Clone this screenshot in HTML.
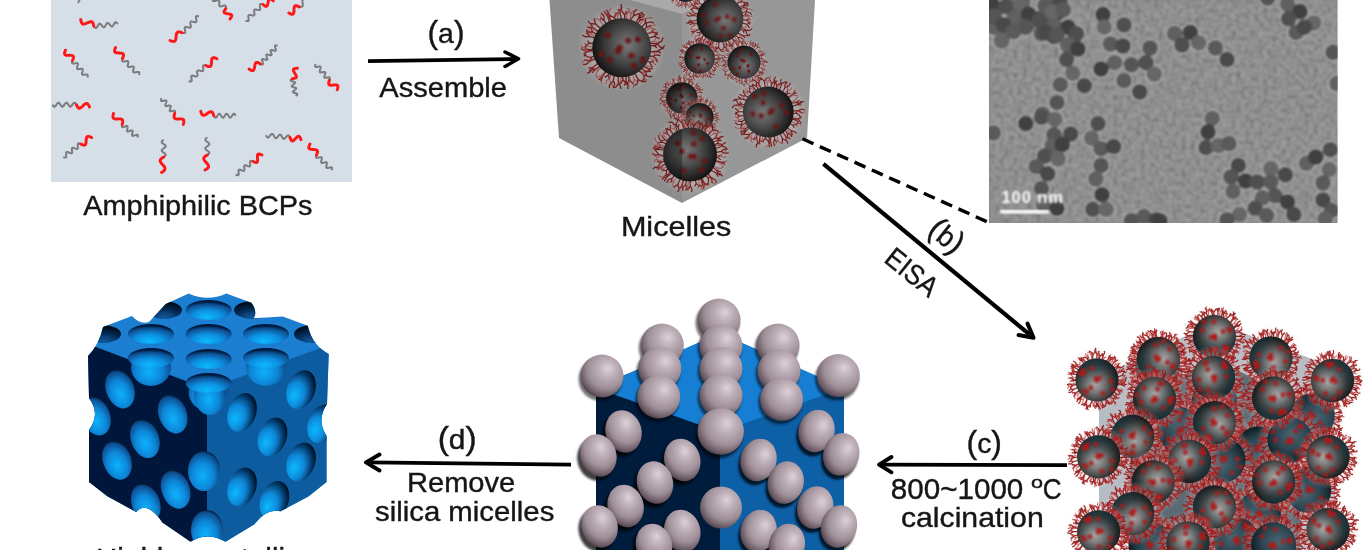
<!DOCTYPE html>
<html><head><meta charset="utf-8"><style>
html,body{margin:0;padding:0;background:#fff;overflow:hidden;}
svg{display:block;}
</style></head><body>
<svg width="1370" height="550" viewBox="0 0 1370 550">
<defs>
<radialGradient id="gM" cx="0.56" cy="0.44" r="0.64" fx="0.58" fy="0.42">
 <stop offset="0" stop-color="#a8a8a8"/><stop offset="0.3" stop-color="#7a7a7a"/>
 <stop offset="0.7" stop-color="#303030"/><stop offset="1" stop-color="#080808"/></radialGradient>
<radialGradient id="gT" cx="0.58" cy="0.42" r="0.62">
 <stop offset="0" stop-color="#4a6672"/><stop offset="0.55" stop-color="#2c4652"/>
 <stop offset="1" stop-color="#0e1c22"/></radialGradient>
<radialGradient id="gTop" cx="0.6" cy="0.45" r="0.65">
 <stop offset="0" stop-color="#7a7a7a"/><stop offset="0.45" stop-color="#4a4a4a"/>
 <stop offset="0.85" stop-color="#1c1c1c"/><stop offset="1" stop-color="#101010"/></radialGradient>
<radialGradient id="gS" cx="0.6" cy="0.36" r="0.72" fx="0.64" fy="0.32">
 <stop offset="0" stop-color="#ddd2da"/><stop offset="0.3" stop-color="#bcadb6"/>
 <stop offset="0.62" stop-color="#9e8e98"/><stop offset="0.85" stop-color="#6a5a64"/><stop offset="1" stop-color="#352a32"/></radialGradient>
<radialGradient id="gHoleTop" cx="0.48" cy="0.8" r="0.72" fx="0.46" fy="0.85">
 <stop offset="0" stop-color="#0abaff"/><stop offset="0.45" stop-color="#0c8ee0"/>
 <stop offset="0.8" stop-color="#0a5396"/><stop offset="1" stop-color="#02183a"/></radialGradient>
<radialGradient id="gHoleL" cx="0.45" cy="0.62" r="0.62">
 <stop offset="0" stop-color="#10b2ff"/><stop offset="0.55" stop-color="#0a86d6"/>
 <stop offset="0.9" stop-color="#0a4e90"/><stop offset="1" stop-color="#05223e"/></radialGradient>
<radialGradient id="gHoleR" cx="0.36" cy="0.66" r="0.72" fx="0.34" fy="0.7">
 <stop offset="0" stop-color="#12b8ff"/><stop offset="0.45" stop-color="#0a88d8"/>
 <stop offset="0.78" stop-color="#053a6c"/><stop offset="1" stop-color="#000814"/></radialGradient>
<radialGradient id="gHalo" cx="0.5" cy="0.5" r="0.5">
 <stop offset="0.6" stop-color="#e8d8d8" stop-opacity="0"/><stop offset="0.68" stop-color="#e8d8d8" stop-opacity="0.35"/>
 <stop offset="0.85" stop-color="#e0cccc" stop-opacity="0.2"/><stop offset="1" stop-color="#e0cccc" stop-opacity="0"/></radialGradient>
<radialGradient id="gNotch" cx="0.5" cy="0.9" r="0.8">
 <stop offset="0" stop-color="#0a5aa0"/><stop offset="0.5" stop-color="#06305c"/><stop offset="1" stop-color="#010a18"/></radialGradient>
<filter id="blur1" x="-20%" y="-20%" width="140%" height="140%"><feGaussianBlur stdDeviation="0.8"/></filter>
<filter id="blur2" x="-20%" y="-20%" width="140%" height="140%"><feGaussianBlur stdDeviation="1.2"/></filter>
<filter id="noise" x="0" y="0" width="100%" height="100%">
 <feTurbulence type="fractalNoise" baseFrequency="0.22" numOctaves="2" seed="3"/>
 <feColorMatrix type="matrix" values="1 0 0 0 0  1 0 0 0 0  1 0 0 0 0  0 0 0 0 1"/>
 <feComponentTransfer><feFuncR type="linear" slope="1.8" intercept="-0.4"/><feFuncG type="linear" slope="1.8" intercept="-0.4"/><feFuncB type="linear" slope="1.8" intercept="-0.4"/></feComponentTransfer>
 <feGaussianBlur stdDeviation="0.9"/>
 <feComposite in2="SourceGraphic" operator="in"/>
</filter>

<g id="fz"><path d="M19.1 -0.1L23.4 -0.3M23.4 -0.3L26.3 -2.0M26.3 -2.0l2.7 0.5M23.4 -0.3L26.1 0.7M26.1 0.7l2.1 -0.9M19.3 2.9L22.8 3.7M22.8 3.7L24.9 2.8M24.9 2.8l1.1 -2.5M22.8 3.7L25.4 5.9M25.4 5.9l2.4 -0.2M17.8 6.3L20.0 7.9M20.0 7.9L23.9 7.7M20.0 7.9L21.2 10.3M21.2 10.3l1.8 0.7M17.1 7.4L19.2 7.6M19.2 7.6L21.5 6.4M19.2 7.6L21.8 9.0M15.6 11.0L17.5 12.7M17.5 12.7L20.2 13.4M20.2 13.4l1.0 1.7M17.5 12.7L18.5 14.9M18.5 14.9l-0.4 2.4M13.1 12.9L16.4 14.9M16.4 14.9L18.8 14.9M18.8 14.9l2.5 -1.4M16.4 14.9L17.4 18.1M11.9 14.0L14.6 17.6M14.6 17.6L16.7 18.4M16.7 18.4l1.5 2.3M14.6 17.6L15.1 20.3M15.1 20.3l1.8 1.9M9.8 16.0L12.3 18.5M12.3 18.5L16.0 19.5M16.0 19.5l1.4 1.4M12.3 18.5L12.7 22.3M12.7 22.3l1.6 2.0M5.8 18.5L6.8 21.3M6.8 21.3L8.2 23.1M8.2 23.1l0.3 2.6M6.8 21.3L6.3 25.1M3.5 18.0L5.1 21.4M5.1 21.4L7.7 23.6M5.1 21.4L4.8 24.2M0.9 18.0L1.1 20.7M1.1 20.7L2.2 23.0M2.2 23.0l1.6 1.1M1.1 20.7L-0.1 23.3M-3.2 19.6L-4.6 22.8M-4.6 22.8L-4.3 25.7M-4.3 25.7l1.5 2.1M-4.6 22.8L-7.5 25.0M-7.5 25.0l-1.0 2.3M-6.8 18.6L-8.6 22.0M-8.6 22.0L-8.0 26.0M-8.0 26.0l-1.8 2.2M-8.6 22.0L-11.7 24.1M-8.9 17.0L-10.4 19.6M-10.4 19.6L-10.4 22.0M-10.4 19.6L-14.2 20.9M-11.2 16.0L-13.0 18.9M-13.0 18.9L-12.9 21.2M-13.0 18.9L-15.8 20.9M-15.8 20.9l-0.1 1.9M-14.3 13.0L-17.1 14.6M-17.1 14.6L-18.5 16.7M-17.1 14.6L-20.8 14.5M-20.8 14.5l-1.6 -1.4M-14.8 11.1L-18.0 12.7M-18.0 12.7L-19.2 15.0M-19.2 15.0l0.5 2.1M-18.0 12.7L-21.2 12.9M-17.8 7.8L-21.5 10.1M-21.5 10.1L-23.3 12.7M-23.3 12.7l0.5 2.2M-21.5 10.1L-25.0 10.2M-18.6 4.9L-21.4 5.1M-21.4 5.1L-24.4 6.8M-21.4 5.1L-24.1 4.0M-19.1 2.8L-21.9 3.8M-21.9 3.8L-23.5 6.0M-21.9 3.8L-25.9 2.6M-25.9 2.6l-2.3 1.1M-19.9 -1.0L-23.6 -0.5M-23.6 -0.5L-25.6 1.0M-25.6 1.0l-1.8 -0.1M-23.6 -0.5L-27.2 -1.6M-18.5 -4.3L-23.0 -4.4M-23.0 -4.4L-25.9 -2.3M-25.9 -2.3l-2.6 -0.7M-23.0 -4.4L-25.8 -5.7M-17.4 -7.0L-20.2 -8.9M-20.2 -8.9L-24.3 -8.8M-24.3 -8.8l-2.4 1.5M-20.2 -8.9L-21.6 -12.7M-21.6 -12.7l-2.8 -1.1M-16.3 -9.9L-19.9 -11.6M-19.9 -11.6L-23.7 -10.7M-23.7 -10.7l-1.6 1.5M-19.9 -11.6L-21.5 -13.8M-16.5 -10.9L-19.4 -11.8M-19.4 -11.8L-22.9 -11.0M-19.4 -11.8L-22.3 -14.9M-13.6 -13.7L-15.3 -16.4M-15.3 -16.4L-18.5 -18.0M-15.3 -16.4L-15.4 -19.7M-10.6 -14.9L-11.8 -18.0M-11.8 -18.0L-14.4 -20.4M-11.8 -18.0L-10.9 -21.3M-10.9 -21.3l-1.4 -2.0M-8.2 -16.5L-9.6 -19.5M-9.6 -19.5L-11.6 -20.7M-9.6 -19.5L-9.4 -22.5M-5.7 -18.1L-7.7 -21.3M-7.7 -21.3L-10.4 -22.6M-7.7 -21.3L-7.4 -24.0M-7.4 -24.0l-1.4 -2.5M-1.7 -19.8L-2.8 -22.9M-2.8 -22.9L-4.4 -24.4M-4.4 -24.4l-1.9 -0.5M-2.8 -22.9L-2.7 -25.7M-0.8 -19.0L-0.7 -22.2M-0.7 -22.2L-2.8 -25.0M-0.7 -22.2L1.5 -25.5M1.5 -25.5l2.5 -0.3M3.2 -19.5L3.2 -22.8M3.2 -22.8L1.8 -25.8M3.2 -22.8L4.7 -26.5M5.2 -17.6L7.0 -20.6M7.0 -20.6L7.4 -24.4M7.4 -24.4l-0.9 -1.9M7.0 -20.6L9.5 -21.8M9.5 -21.8l2.5 0.7M7.9 -17.6L8.6 -21.5M8.6 -21.5L7.6 -24.2M8.6 -21.5L10.8 -24.3M11.3 -16.5L14.2 -19.4M14.2 -19.4L14.8 -21.5M14.2 -19.4L18.1 -20.2M18.1 -20.2l1.4 -1.5M14.9 -13.3L17.3 -16.9M17.3 -16.9L18.2 -20.9M18.2 -20.9l-0.9 -2.2M17.3 -16.9L20.1 -18.2M14.8 -12.6L17.3 -15.8M17.3 -15.8L17.9 -19.4M17.9 -19.4l-1.0 -1.6M17.3 -15.8L20.1 -16.6M20.1 -16.6l1.8 0.9M16.8 -8.3L20.0 -10.4M20.0 -10.4L22.1 -13.5M22.1 -13.5l2.0 -0.9M20.0 -10.4L22.9 -10.6M22.9 -10.6l2.0 -1.7M17.3 -7.0L19.8 -9.0M19.8 -9.0L21.2 -12.1M19.8 -9.0L23.8 -10.0M19.0 -3.5L22.4 -4.1M22.4 -4.1L25.7 -6.6M22.4 -4.1L25.8 -2.5" fill="none" stroke="#961a1a" stroke-width="1.15" stroke-opacity="0.95"/><path d="M20.3 1.4L23.6 0.8M23.6 0.8L25.8 -1.3M23.6 0.8L26.1 1.3M26.1 1.3l2.5 -1.5M20.2 3.0L22.7 2.6M22.7 2.6L25.0 0.6M22.7 2.6L24.9 3.3M24.9 3.3l2.6 -1.3M18.5 7.7L20.5 8.7M20.5 8.7L23.3 8.3M23.3 8.3l2.2 1.0M20.5 8.7L22.2 11.8M22.2 11.8l2.4 0.9M15.9 11.6L17.2 12.5M17.2 12.5L21.3 12.7M21.3 12.7l2.4 1.6M17.2 12.5L19.0 16.1M19.0 16.1l1.7 1.0M12.6 15.4L15.0 17.5M15.0 17.5L19.0 18.2M15.0 17.5L15.4 20.0M10.8 16.0L11.4 17.4M11.4 17.4L14.9 19.7M11.4 17.4L10.5 20.6M5.2 18.4L6.4 21.7M6.4 21.7L8.0 23.4M8.0 23.4l2.4 0.0M6.4 21.7L6.1 24.1M1.6 19.8L2.2 22.3M2.2 22.3L3.7 24.4M3.7 24.4l-0.3 2.3M2.2 22.3L1.6 25.7M-0.7 20.4L-1.3 23.6M-1.3 23.6L-0.3 26.5M-0.3 26.5l1.8 0.7M-1.3 23.6L-3.3 25.7M-6.8 17.7L-7.2 21.1M-7.2 21.1L-5.8 24.1M-5.8 24.1l-1.1 2.8M-7.2 21.1L-8.7 23.5M-8.7 23.5l0.5 2.2M-10.0 15.6L-11.8 17.7M-11.8 17.7L-11.9 20.7M-11.9 20.7l1.4 1.7M-11.8 17.7L-14.2 18.1M-13.8 13.7L-16.2 15.6M-16.2 15.6L-17.1 18.2M-17.1 18.2l-1.9 0.9M-16.2 15.6L-18.8 15.6M-18.8 15.6l-2.0 -2.1M-16.1 11.6L-18.2 12.4M-18.2 12.4L-19.4 14.6M-19.4 14.6l-2.1 0.4M-18.2 12.4L-20.4 11.9M-20.4 11.9l-2.8 1.1M-17.1 7.2L-19.8 8.8M-19.8 8.8L-21.1 10.9M-19.8 8.8L-23.4 9.3M-23.4 9.3l-1.7 -0.9M-19.6 2.8L-21.4 2.6M-21.4 2.6L-23.6 3.8M-23.6 3.8l-0.4 2.1M-21.4 2.6L-23.3 0.5M-18.5 1.3L-21.4 2.3M-21.4 2.3L-23.6 4.1M-23.6 4.1l-0.7 2.2M-21.4 2.3L-24.8 1.8M-18.7 -5.1L-20.7 -5.9M-20.7 -5.9L-24.7 -4.9M-24.7 -4.9l-1.9 2.3M-20.7 -5.9L-23.5 -8.8M-23.5 -8.8l0.1 -2.7M-17.2 -7.8L-19.5 -8.1M-19.5 -8.1L-22.4 -7.2M-19.5 -8.1L-21.8 -10.1M-21.8 -10.1l-0.7 -2.0M-15.0 -12.1L-16.7 -13.5M-16.7 -13.5L-20.5 -14.8M-16.7 -13.5L-17.4 -16.0M-17.4 -16.0l-2.0 -1.2M-14.5 -14.0L-16.3 -15.5M-16.3 -15.5L-18.4 -16.2M-18.4 -16.2l-0.9 -1.8M-16.3 -15.5L-16.9 -19.1M-10.1 -17.3L-11.9 -20.1M-11.9 -20.1L-15.7 -21.7M-11.9 -20.1L-12.3 -22.3M-7.0 -18.5L-7.6 -21.6M-7.6 -21.6L-9.8 -24.5M-9.8 -24.5l-0.0 -2.7M-7.6 -21.6L-6.8 -25.1M-1.8 -18.5L-2.7 -21.4M-2.7 -21.4L-5.7 -23.4M-5.7 -23.4l-1.2 -2.5M-2.7 -21.4L-2.5 -23.8M2.8 -20.2L3.3 -22.9M3.3 -22.9L2.3 -26.1M3.3 -22.9L5.9 -25.9M5.9 -25.9l-0.1 -2.0M7.0 -18.2L8.7 -20.6M8.7 -20.6L9.4 -24.6M8.7 -20.6L10.7 -21.7M9.1 -16.2L9.5 -17.6M9.5 -17.6L9.3 -21.1M9.5 -17.6L12.6 -20.4M12.6 -20.4l2.2 -0.4M13.6 -14.3L15.3 -16.9M15.3 -16.9L15.2 -20.7M15.2 -20.7l-2.0 -1.7M15.3 -16.9L18.5 -19.1M14.7 -11.8L17.0 -13.4M17.0 -13.4L18.7 -17.0M18.7 -17.0l-0.5 -2.5M17.0 -13.4L20.7 -13.2M17.6 -6.5L19.8 -7.5M19.8 -7.5L21.9 -10.0M19.8 -7.5L22.2 -7.1M22.2 -7.1l1.4 1.9M19.0 -4.9L21.9 -6.0M21.9 -6.0L24.4 -9.3M24.4 -9.3l-0.2 -2.0M21.9 -6.0L25.3 -5.3" fill="none" stroke="#b83636" stroke-width="1" stroke-opacity="0.75" transform="rotate(5)"/></g>
<g id="dt" fill="#b01414" fill-opacity="0.95" filter="url(#blur1)"><circle cx="-0.7" cy="-13.7" r="2.1"/><circle cx="14.4" cy="-5.5" r="2.1"/><circle cx="13.2" cy="-7.0" r="2.1"/><circle cx="-2.9" cy="0.6" r="2.1"/><circle cx="-10.0" cy="-13.5" r="2.1"/><circle cx="12.5" cy="10.7" r="2.1"/><circle cx="0.3" cy="11.9" r="2.1"/><circle cx="-11.4" cy="-5.7" r="2.1"/><circle cx="0.4" cy="1.9" r="2.1"/><circle cx="7.9" cy="-4.6" r="2.1"/><circle cx="8.2" cy="12.8" r="2.1"/><circle cx="9.9" cy="11.8" r="2.1"/><circle cx="9.5" cy="9.7" r="2.1"/><circle cx="0.5" cy="-0.5" r="2.1"/></g>
<linearGradient id="gTeal" x1="0" y1="0" x2="0" y2="1"><stop offset="0.45" stop-color="#1e4650" stop-opacity="0"/><stop offset="1" stop-color="#1e4650" stop-opacity="0.55"/></linearGradient>
<g id="mG"><circle r="30" fill="url(#gHalo)"/><use href="#fz"/><circle r="20" fill="url(#gM)"/><circle r="20" fill="url(#gTeal)"/><use href="#dt"/></g>
<g id="mT"><circle r="30" fill="url(#gHalo)"/><use href="#fz"/><circle r="20" fill="url(#gT)"/><use href="#dt"/></g>
<g id="fzTop"><path d="M18.2 -1.4L21.8 -1.3M21.8 -1.3L24.1 -2.2M24.1 -2.2l1.6 -2.1M21.8 -1.3L23.9 0.1M18.6 2.8L24.1 2.3M24.1 2.3L27.8 0.5M27.8 0.5l1.2 -2.0M24.1 2.3L26.5 3.5M18.5 5.7L21.1 5.8M21.1 5.8L23.4 4.9M23.4 4.9l2.7 0.4M21.1 5.8L23.8 8.0M23.8 8.0l0.2 2.0M16.2 8.7L18.7 9.7M18.7 9.7L21.6 9.5M18.7 9.7L20.8 13.3M14.9 12.7L17.9 14.4M17.9 14.4L21.1 14.2M17.9 14.4L19.5 16.4M13.5 13.9L15.5 15.8M15.5 15.8L19.0 16.1M15.5 15.8L16.8 18.7M11.6 15.7L14.8 18.4M14.8 18.4L18.8 19.8M18.8 19.8l1.9 -0.5M14.8 18.4L15.3 20.9M15.3 20.9l-1.9 2.3M8.7 17.1L11.1 21.6M11.1 21.6L14.1 23.1M14.1 23.1l2.7 -0.4M11.1 21.6L10.5 24.4M10.5 24.4l-1.9 1.4M4.3 17.8L5.0 21.9M5.0 21.9L7.9 24.6M5.0 21.9L3.0 25.3M2.8 18.9L2.9 22.9M2.9 22.9L4.3 25.2M4.3 25.2l-0.2 2.8M2.9 22.9L1.7 25.6M0.5 18.4L0.8 21.7M0.8 21.7L2.3 23.5M0.8 21.7L-0.5 24.0M-0.5 24.0l-2.5 1.3M-2.4 19.0L-2.3 24.3M-2.3 24.3L-0.9 26.0M-0.9 26.0l0.2 2.0M-2.3 24.3L-4.1 26.7M-4.1 26.7l-2.0 0.6M-5.0 18.0L-5.8 22.5M-5.8 22.5L-4.8 24.7M-4.8 24.7l-1.0 2.1M-5.8 22.5L-8.3 25.1M-8.3 25.1l-0.2 2.2M-8.1 16.1L-9.1 18.4M-9.1 18.4L-8.5 21.1M-9.1 18.4L-11.5 20.1M-10.6 16.0L-13.5 20.1M-13.5 20.1L-13.9 22.5M-13.5 20.1L-16.0 21.7M-14.6 12.7L-18.2 14.6M-18.2 14.6L-19.9 17.1M-18.2 14.6L-20.8 14.5M-20.8 14.5l-1.4 1.6M-15.8 10.2L-19.8 13.6M-19.8 13.6L-21.3 16.5M-21.3 16.5l-2.2 0.7M-19.8 13.6L-22.6 13.9M-17.0 7.2L-21.7 9.1M-21.7 9.1L-24.0 11.2M-24.0 11.2l-2.4 0.1M-21.7 9.1L-25.6 8.2M-18.0 5.1L-20.6 6.6M-20.6 6.6L-21.5 8.8M-20.6 6.6L-23.4 6.2M-23.4 6.2l-1.4 -1.2M-18.8 1.8L-23.9 2.6M-23.9 2.6L-25.7 4.3M-23.9 2.6L-27.5 0.7M-18.5 0.5L-21.6 1.4M-21.6 1.4L-24.8 3.8M-24.8 3.8l-0.8 2.1M-21.6 1.4L-24.5 1.0M-18.4 -2.7L-21.7 -3.0M-21.7 -3.0L-24.3 -1.7M-24.3 -1.7l-0.6 2.7M-21.7 -3.0L-23.4 -4.8M-17.5 -6.3L-21.8 -7.7M-21.8 -7.7L-25.0 -7.4M-25.0 -7.4l-1.6 -1.1M-21.8 -7.7L-23.5 -9.6M-23.5 -9.6l-0.4 -2.8M-17.3 -9.0L-19.7 -10.6M-19.7 -10.6L-23.6 -10.8M-19.7 -10.6L-21.1 -13.7M-15.9 -10.6L-19.7 -13.6M-19.7 -13.6L-23.6 -14.0M-19.7 -13.6L-20.8 -15.6M-14.9 -13.3L-17.7 -16.0M-17.7 -16.0L-21.7 -16.4M-21.7 -16.4l-1.1 -1.7M-17.7 -16.0L-18.8 -19.4M-10.4 -15.9L-12.1 -18.4M-12.1 -18.4L-14.5 -20.2M-12.1 -18.4L-12.1 -21.6M-12.1 -21.6l-1.9 -1.9M-8.2 -16.8L-9.7 -21.6M-9.7 -21.6L-12.1 -24.8M-9.7 -21.6L-9.2 -24.1M-9.2 -24.1l-1.4 -1.7M-6.5 -16.9L-8.2 -20.3M-8.2 -20.3L-10.3 -22.1M-8.2 -20.3L-8.6 -23.2M-3.8 -17.7L-4.9 -20.2M-4.9 -20.2L-8.4 -21.9M-4.9 -20.2L-4.2 -22.9M-4.2 -22.9l2.0 -1.0M-0.3 -19.4L-1.4 -24.5M-1.4 -24.5L-2.7 -26.2M-1.4 -24.5L0.1 -27.5M0.1 -27.5l-0.8 -2.0M2.0 -18.3L1.9 -22.2M1.9 -22.2L-0.5 -25.5M-0.5 -25.5l0.4 -2.9M1.9 -22.2L3.8 -24.7M5.5 -18.1L7.8 -21.6M7.8 -21.6L8.5 -24.6M8.5 -24.6l1.9 -1.5M7.8 -21.6L11.6 -23.1M9.3 -16.5L11.4 -20.0M11.4 -20.0L12.1 -23.2M12.1 -23.2l1.9 -1.0M11.4 -20.0L14.1 -20.9M14.1 -20.9l1.1 -1.8M10.4 -15.9L12.3 -18.5M12.3 -18.5L12.4 -21.7M12.4 -21.7l2.1 -1.6M12.3 -18.5L14.5 -19.3M13.2 -13.6L16.0 -16.7M16.0 -16.7L16.1 -19.8M16.0 -16.7L19.9 -17.5M19.9 -17.5l1.8 0.8M14.6 -11.4L16.5 -13.6M16.5 -13.6L16.8 -15.9M16.8 -15.9l-1.1 -2.1M16.5 -13.6L19.8 -15.1M17.4 -9.3L19.8 -10.4M19.8 -10.4L21.4 -12.3M19.8 -10.4L22.1 -10.6M22.1 -10.6l2.2 2.0M18.5 -6.6L22.0 -7.6M22.0 -7.6L24.3 -10.7M22.0 -7.6L25.7 -6.1M19.1 -3.0L23.9 -2.7M23.9 -2.7L27.0 -4.2M27.0 -4.2l0.9 -2.7M23.9 -2.7L26.3 -0.3M26.3 -0.3l2.3 0.5" fill="none" stroke="#701616" stroke-width="0.9" stroke-opacity="0.95"/><path d="M19.1 0.9L21.6 1.5M21.6 1.5L24.7 1.1M21.6 1.5L23.3 3.3M19.5 5.2L21.3 6.3M21.3 6.3L25.1 6.8M21.3 6.3L22.3 8.7M22.3 8.7l1.9 0.9M16.4 9.4L18.1 10.8M18.1 10.8L22.0 11.4M18.1 10.8L18.8 13.1M12.9 13.8L15.3 15.3M15.3 15.3L19.1 15.4M15.3 15.3L16.8 19.2M16.8 19.2l2.1 1.3M9.1 17.9L10.3 20.6M10.3 20.6L12.6 22.1M10.3 20.6L10.2 23.1M6.8 19.3L7.4 21.4M7.4 21.4L10.2 23.8M10.2 23.8l-0.1 2.9M7.4 21.4L6.6 23.5M6.6 23.5l0.6 2.4M1.5 19.4L1.2 22.3M1.2 22.3L2.0 24.3M1.2 22.3L-0.7 25.6M-5.5 18.1L-6.5 21.7M-6.5 21.7L-4.9 25.5M-4.9 25.5l1.7 1.2M-6.5 21.7L-8.5 23.2M-8.5 23.2l-0.1 2.1M-9.6 16.6L-12.3 20.2M-12.3 20.2L-12.6 23.4M-12.6 23.4l1.3 1.9M-12.3 20.2L-14.9 21.2M-12.7 14.8L-14.2 16.1M-14.2 16.1L-15.9 19.2M-15.9 19.2l0.7 2.6M-14.2 16.1L-18.1 17.4M-18.1 17.4l-2.1 -1.2M-17.2 8.8L-21.1 10.3M-21.1 10.3L-22.5 12.7M-21.1 10.3L-24.3 10.4M-24.3 10.4l-2.0 2.2M-20.0 4.5L-23.2 4.7M-23.2 4.7L-25.7 6.8M-23.2 4.7L-26.8 3.1M-26.8 3.1l-0.6 -2.0M-18.7 1.2L-23.0 1.0M-23.0 1.0L-26.6 2.3M-23.0 1.0L-25.8 -1.0M-19.4 -6.4L-21.5 -7.4M-21.5 -7.4L-25.3 -7.5M-21.5 -7.4L-23.7 -10.2M-16.5 -9.8L-20.4 -11.5M-20.4 -11.5L-23.8 -11.3M-20.4 -11.5L-22.6 -13.7M-14.2 -14.2L-16.1 -16.9M-16.1 -16.9L-18.2 -18.0M-18.2 -18.0l-2.7 0.1M-16.1 -16.9L-15.9 -20.8M-9.7 -17.7L-11.0 -20.7M-11.0 -20.7L-13.3 -23.1M-11.0 -20.7L-10.7 -24.4M-10.7 -24.4l1.5 -2.0M-4.2 -18.6L-4.8 -21.1M-4.8 -21.1L-7.1 -23.6M-4.8 -21.1L-3.3 -24.6M-3.3 -24.6l-0.4 -2.5M1.5 -19.0L1.4 -22.7M1.4 -22.7L0.0 -24.8M1.4 -22.7L2.9 -24.8M2.9 -24.8l-0.6 -2.1M3.9 -18.6L4.2 -23.0M4.2 -23.0L2.7 -26.2M2.7 -26.2l-1.7 -1.0M4.2 -23.0L5.4 -25.5M5.4 -25.5l2.7 -1.0M10.7 -16.7L13.0 -20.0M13.0 -20.0L13.3 -24.0M13.0 -20.0L16.5 -21.9M16.5 -21.9l2.5 0.1M14.6 -12.7L18.1 -15.0M18.1 -15.0L19.4 -17.0M19.4 -17.0l2.5 -0.5M18.1 -15.0L21.0 -14.9M21.0 -14.9l1.3 1.4M16.2 -11.0L19.0 -11.9M19.0 -11.9L20.9 -14.9M19.0 -11.9L21.8 -11.7M18.0 -4.9L21.3 -6.4M21.3 -6.4L23.0 -9.3M21.3 -6.4L23.6 -5.8" fill="none" stroke="#9a3a3a" stroke-width="0.8" stroke-opacity="0.7" transform="rotate(5)"/></g>
<g id="mTop"><circle r="30" fill="url(#gHalo)"/><use href="#fzTop"/><circle r="20" fill="url(#gTop)"/><g fill="#6e1212" fill-opacity="0.9" filter="url(#blur1)"><circle cx="-8.2" cy="8.4" r="2"/><circle cx="4.3" cy="-4.8" r="2"/><circle cx="-1.4" cy="-0.0" r="2"/><circle cx="14.3" cy="8.0" r="2"/><circle cx="-9.6" cy="-8.6" r="2"/><circle cx="-2.5" cy="2.4" r="2"/><circle cx="-13.9" cy="4.3" r="2"/><circle cx="8.1" cy="12.3" r="2"/><circle cx="6.5" cy="5.4" r="2"/><circle cx="10.9" cy="-5.7" r="2"/></g></g><filter id="soft" x="0" y="0" width="100%" height="100%" filterUnits="userSpaceOnUse"><feGaussianBlur stdDeviation="0.45"/></filter></defs>
<g filter="url(#soft)"><rect width="1370" height="550" fill="#fff"/>
<rect x="51" y="0" width="301" height="182" fill="#d6dfe8"/>
<path d="M93.8 26.2 L94.4 26.9 L94.9 27.5 L95.5 27.9 L96.0 28.0 L96.5 27.8 L96.9 27.3 L97.4 26.6 L97.8 25.8 L98.2 25.0 L98.7 24.3 L99.1 23.9 L99.6 23.7 L100.1 23.8 L100.7 24.2 L101.2 24.8 L101.8 25.5 L102.4 26.2 L102.9 26.8 L103.5 27.2 L104.0 27.3 L104.5 27.1 L104.9 26.6 L105.4 25.9 L105.8 25.1 L106.2 24.3 L106.7 23.6 L107.1 23.1 L107.6 22.9 L108.1 23.0 L108.7 23.4 L109.2 24.0 L109.8 24.7 L110.4 25.4 L110.9 26.0 L111.5 26.4 L112.0 26.5 L112.5 26.3 L112.9 25.9 L113.4 25.2 L113.8 24.4 L114.2 23.6 L114.7 22.9 L115.1 22.4 L115.6 22.2 L116.1 22.3 L116.7 22.7 L117.2 23.3 L117.8 24.0" fill="none" stroke="#7b7b7e" stroke-width="2" stroke-linejoin="round"/>
<path d="M80.7 19.6 L80.9 20.4 L81.0 21.2 L81.2 21.9 L81.5 22.6 L81.8 23.1 L82.1 23.5 L82.5 23.9 L83.0 24.1 L83.5 24.1 L84.1 24.1 L84.7 23.9 L85.4 23.7 L86.1 23.4 L86.9 23.1 L87.6 22.7 L88.4 22.4 L89.1 22.1 L89.8 21.9 L90.4 21.7 L91.0 21.7 L91.5 21.7 L92.0 21.9 L92.4 22.3 L92.7 22.7 L93.0 23.2 L93.3 23.9 L93.5 24.6 L93.6 25.4 L93.8 26.2" fill="none" stroke="#ff1212" stroke-width="2.9" stroke-linecap="round" stroke-linejoin="round"/>
<path d="M72.5 60.5 L72.2 61.4 L72.0 62.3 L72.1 62.9 L72.4 63.3 L72.9 63.5 L73.7 63.5 L74.6 63.4 L75.6 63.2 L76.5 63.1 L77.2 63.1 L77.7 63.4 L77.9 63.9 L77.9 64.6 L77.6 65.5 L77.3 66.4 L77.1 67.4 L77.0 68.1 L77.1 68.7 L77.4 69.1 L78.1 69.2 L78.9 69.1 L79.9 69.0 L80.9 68.8 L81.7 68.7 L82.4 68.8 L82.7 69.2 L82.8 69.8 L82.7 70.5 L82.5 71.5 L82.2 72.4 L81.9 73.3 L81.9 74.0 L82.1 74.5 L82.6 74.8 L83.3 74.8 L84.2 74.7 L85.2 74.5 L86.1 74.4 L86.9 74.4 L87.4 74.6 L87.7 75.0 L87.8 75.6 L87.6 76.5 L87.3 77.4" fill="none" stroke="#7b7b7e" stroke-width="2" stroke-linejoin="round"/>
<path d="M65.5 50.2 L65.1 51.1 L64.8 51.9 L64.6 52.7 L64.5 53.4 L64.6 54.0 L64.8 54.5 L65.1 54.8 L65.7 55.1 L66.4 55.3 L67.2 55.3 L68.1 55.4 L69.0 55.4 L69.9 55.3 L70.8 55.4 L71.6 55.4 L72.3 55.6 L72.9 55.9 L73.2 56.2 L73.4 56.7 L73.5 57.3 L73.4 58.0 L73.2 58.8 L72.9 59.6 L72.5 60.5" fill="none" stroke="#ff1212" stroke-width="2.9" stroke-linecap="round" stroke-linejoin="round"/>
<path d="M122.5 58.5 L122.3 59.4 L122.2 60.3 L122.2 60.9 L122.5 61.3 L123.0 61.5 L123.8 61.5 L124.6 61.4 L125.6 61.2 L126.5 61.0 L127.2 60.9 L127.8 61.1 L128.2 61.4 L128.3 62.0 L128.3 62.8 L128.1 63.7 L127.9 64.6 L127.7 65.5 L127.7 66.2 L127.9 66.7 L128.3 67.0 L129.0 67.1 L129.8 67.0 L130.8 66.8 L131.7 66.5 L132.5 66.4 L133.2 66.5 L133.6 66.8 L133.8 67.3 L133.8 68.0 L133.6 68.9 L133.4 69.8 L133.2 70.7 L133.2 71.5 L133.3 72.1 L133.7 72.4 L134.3 72.6 L135.0 72.5 L135.9 72.3 L136.9 72.1 L137.7 72.0 L138.5 72.0 L139.0 72.2 L139.3 72.6 L139.3 73.2 L139.2 74.1 L139.0 75.0" fill="none" stroke="#7b7b7e" stroke-width="2" stroke-linejoin="round"/>
<path d="M115.6 47.5 L115.2 48.3 L114.9 49.1 L114.7 49.9 L114.6 50.6 L114.6 51.2 L114.7 51.7 L115.0 52.1 L115.5 52.5 L116.1 52.7 L116.9 52.8 L117.7 52.9 L118.6 53.0 L119.5 53.0 L120.4 53.1 L121.2 53.2 L122.0 53.3 L122.6 53.5 L123.1 53.9 L123.4 54.3 L123.5 54.8 L123.5 55.4 L123.4 56.1 L123.2 56.9 L122.9 57.7 L122.5 58.5" fill="none" stroke="#ff1212" stroke-width="2.9" stroke-linecap="round" stroke-linejoin="round"/>
<path d="M182.2 32.8 L183.1 33.0 L184.0 33.1 L184.6 33.1 L185.1 32.8 L185.3 32.3 L185.3 31.6 L185.1 30.7 L184.9 29.8 L184.8 28.8 L184.7 28.1 L184.8 27.5 L185.2 27.1 L185.8 27.0 L186.6 27.1 L187.5 27.3 L188.4 27.5 L189.3 27.6 L190.0 27.7 L190.5 27.5 L190.8 27.0 L190.9 26.4 L190.8 25.5 L190.6 24.6 L190.4 23.7 L190.3 22.8 L190.4 22.2 L190.7 21.7 L191.2 21.5 L191.9 21.6 L192.8 21.7 L193.7 21.9 L194.6 22.1 L195.4 22.2 L196.0 22.1 L196.4 21.7 L196.5 21.1 L196.4 20.4 L196.3 19.4 L196.1 18.5 L195.9 17.6 L195.9 16.9 L196.1 16.4 L196.6 16.1 L197.2 16.1 L198.1 16.2 L199.0 16.4" fill="none" stroke="#7b7b7e" stroke-width="2" stroke-linejoin="round"/>
<path d="M170.0 40.5 L170.8 40.8 L171.6 41.1 L172.3 41.3 L173.0 41.4 L173.6 41.4 L174.2 41.3 L174.7 41.1 L175.0 40.8 L175.4 40.3 L175.6 39.7 L175.8 39.1 L175.9 38.3 L176.0 37.5 L176.1 36.6 L176.2 35.8 L176.3 35.0 L176.4 34.2 L176.6 33.6 L176.8 33.0 L177.2 32.5 L177.5 32.2 L178.0 32.0 L178.6 31.9 L179.2 31.9 L179.9 32.0 L180.6 32.2 L181.4 32.5 L182.2 32.8" fill="none" stroke="#ff1212" stroke-width="2.9" stroke-linecap="round" stroke-linejoin="round"/>
<path d="M225.8 8.6 L225.9 7.7 L225.9 6.9 L225.8 6.2 L225.5 5.8 L225.0 5.5 L224.4 5.5 L223.6 5.6 L222.8 5.9 L221.9 6.1 L221.1 6.3 L220.4 6.4 L219.8 6.3 L219.5 5.9 L219.3 5.4 L219.2 4.6 L219.3 3.8 L219.3 2.8 L219.4 2.0 L219.3 1.2 L219.1 0.7 L218.8 0.3 L218.2 0.2 L217.5 0.3 L216.7 0.5 L215.8 0.7 L215.0 1.0 L214.2 1.1 L213.6 1.1 L213.1 0.8 L212.8 0.4 L212.7 -0.3 L212.7 -1.1 L212.8 -2.0" fill="none" stroke="#7b7b7e" stroke-width="2" stroke-linejoin="round"/>
<path d="M230.0 19.0 L230.6 18.2 L231.1 17.4 L231.5 16.7 L231.8 16.1 L231.8 15.5 L231.6 15.1 L231.2 14.7 L230.6 14.4 L229.8 14.1 L228.9 14.0 L227.9 13.8 L226.9 13.6 L226.0 13.5 L225.2 13.2 L224.6 12.9 L224.2 12.5 L224.0 12.1 L224.0 11.5 L224.3 10.9 L224.7 10.2 L225.2 9.4 L225.8 8.6" fill="none" stroke="#ff1212" stroke-width="2.9" stroke-linecap="round" stroke-linejoin="round"/>
<path d="M263.0 4.3 L262.1 4.1 L261.3 4.0 L260.6 4.0 L260.1 4.2 L259.9 4.7 L259.9 5.4 L260.0 6.3 L260.1 7.2 L260.3 8.1 L260.3 8.9 L260.2 9.5 L259.9 9.9 L259.4 10.1 L258.7 10.1 L257.8 9.9 L256.9 9.7 L256.0 9.5 L255.2 9.4 L254.6 9.5 L254.2 9.8 L254.1 10.4 L254.1 11.2 L254.2 12.0 L254.4 13.0 L254.5 13.8 L254.5 14.6 L254.4 15.2 L254.0 15.5 L253.4 15.6 L252.6 15.5 L251.7 15.3 L250.8 15.1 L249.9 14.9 L249.2 14.9 L248.7 15.1 L248.4 15.5 L248.3 16.1 L248.3 16.9 L248.5 17.8 L248.6 18.7 L248.7 19.6 L248.7 20.3 L248.5 20.8 L248.0 21.0 L247.3 21.0 L246.5 20.9 L245.6 20.7" fill="none" stroke="#7b7b7e" stroke-width="2" stroke-linejoin="round"/>
<path d="M273.3 0.9 L272.5 0.2 L271.8 -0.4 L271.1 -0.8 L270.5 -1.1 L269.9 -1.1 L269.4 -0.9 L269.0 -0.5 L268.7 0.2 L268.4 1.0 L268.2 2.0 L268.0 3.0 L267.8 3.9 L267.5 4.8 L267.2 5.5 L266.8 6.1 L266.4 6.3 L265.9 6.4 L265.2 6.2 L264.6 5.8 L263.8 5.2 L263.1 4.5" fill="none" stroke="#ff1212" stroke-width="2.9" stroke-linecap="round" stroke-linejoin="round"/>
<path d="M299.2 6.9 L300.0 6.9 L300.8 6.9 L301.4 6.8 L302.0 6.6 L302.4 6.2 L302.7 5.8 L302.8 5.2 L302.8 4.5 L302.7 3.7 L302.6 3.0 L302.5 2.2 L302.4 1.4 L302.4 0.7 L302.5 0.1 L302.8 -0.3 L303.2 -0.7 L303.8 -0.9 L304.4 -1.0 L305.2 -1.0 L306.0 -1.0" fill="none" stroke="#7b7b7e" stroke-width="2" stroke-linejoin="round"/>
<path d="M288.8 13.0 L289.6 13.4 L290.4 13.8 L291.2 14.1 L291.8 14.2 L292.4 14.2 L292.9 14.1 L293.3 13.7 L293.6 13.2 L293.8 12.5 L293.9 11.8 L294.0 10.9 L294.0 9.9 L294.0 9.0 L294.1 8.1 L294.2 7.4 L294.4 6.7 L294.7 6.2 L295.1 5.8 L295.6 5.7 L296.2 5.7 L296.8 5.8 L297.6 6.1 L298.4 6.5 L299.2 6.9" fill="none" stroke="#ff1212" stroke-width="2.9" stroke-linecap="round" stroke-linejoin="round"/>
<path d="M260.3 64.0 L261.3 64.3 L262.2 64.4 L262.8 64.3 L263.0 63.8 L262.9 63.0 L262.6 62.0 L262.2 60.9 L262.0 60.0 L262.0 59.4 L262.4 59.0 L263.1 59.1 L264.1 59.3 L265.2 59.6 L266.1 59.8 L266.9 59.9 L267.3 59.5 L267.3 58.9 L267.1 58.0 L266.7 56.9 L266.4 55.9 L266.3 55.1 L266.5 54.6 L267.0 54.5 L267.9 54.6 L269.0 54.9 L270.0 55.2 L270.9 55.3 L271.4 55.2 L271.6 54.7 L271.5 53.9 L271.2 52.9 L270.8 51.8 L270.6 50.9 L270.6 50.3 L271.0 49.9 L271.8 50.0 L272.7 50.2 L273.8 50.5 L274.8 50.7 L275.5 50.8 L275.9 50.4 L275.9 49.8 L275.7 48.9 L275.3 47.8 L275.0 46.8 L274.9 46.0 L275.1 45.5 L275.7 45.4 L276.6 45.5 L277.6 45.8" fill="none" stroke="#7b7b7e" stroke-width="2" stroke-linejoin="round"/>
<path d="M249.0 69.0 L249.8 69.5 L250.5 70.0 L251.3 70.3 L251.9 70.5 L252.5 70.6 L253.0 70.5 L253.5 70.2 L253.8 69.7 L254.1 69.1 L254.3 68.3 L254.5 67.4 L254.7 66.5 L254.8 65.6 L255.0 64.7 L255.2 63.9 L255.5 63.3 L255.8 62.8 L256.3 62.5 L256.8 62.4 L257.4 62.5 L258.0 62.7 L258.8 63.0 L259.5 63.5 L260.3 64.0" fill="none" stroke="#ff1212" stroke-width="2.9" stroke-linecap="round" stroke-linejoin="round"/>
<path d="M206.0 65.6 L205.1 65.3 L204.3 65.2 L203.6 65.2 L203.2 65.5 L202.9 66.0 L202.9 66.7 L203.0 67.6 L203.2 68.5 L203.3 69.4 L203.3 70.2 L203.1 70.8 L202.8 71.1 L202.2 71.2 L201.4 71.1 L200.5 70.9 L199.6 70.6 L198.7 70.4 L198.0 70.4 L197.5 70.6 L197.2 71.0 L197.1 71.6 L197.1 72.5 L197.3 73.4 L197.5 74.3 L197.5 75.2 L197.4 75.8 L197.1 76.2 L196.6 76.4 L195.9 76.4 L195.0 76.2 L194.1 75.9 L193.2 75.7 L192.4 75.6 L191.8 75.7 L191.5 76.0 L191.3 76.6 L191.3 77.4 L191.4 78.3 L191.6 79.2 L191.7 80.1 L191.7 80.8 L191.4 81.3 L191.0 81.6 L190.3 81.6 L189.5 81.5 L188.6 81.2" fill="none" stroke="#7b7b7e" stroke-width="2" stroke-linejoin="round"/>
<path d="M217.0 58.7 L216.2 58.3 L215.4 58.0 L214.6 57.8 L213.9 57.7 L213.3 57.7 L212.8 57.8 L212.4 58.1 L212.0 58.6 L211.8 59.2 L211.7 60.0 L211.6 60.8 L211.5 61.7 L211.5 62.6 L211.4 63.5 L211.3 64.3 L211.2 65.1 L211.0 65.7 L210.6 66.2 L210.2 66.5 L209.7 66.6 L209.1 66.6 L208.4 66.5 L207.6 66.3 L206.8 66.0 L206.0 65.6" fill="none" stroke="#ff1212" stroke-width="2.9" stroke-linecap="round" stroke-linejoin="round"/>
<path d="M292.3 78.6 L291.4 79.3 L290.8 79.9 L290.6 80.5 L291.1 80.9 L291.9 81.3 L293.1 81.5 L294.1 81.9 L294.9 82.2 L295.1 82.7 L294.8 83.3 L294.1 83.9 L293.1 84.6 L292.3 85.3 L291.8 85.9 L291.8 86.4 L292.4 86.8 L293.4 87.2 L294.6 87.4 L295.6 87.8 L296.2 88.2 L296.2 88.7 L295.7 89.3 L294.9 90.0 L293.9 90.7 L293.2 91.3 L292.9 91.9 L293.1 92.4 L293.9 92.7 L294.9 93.1 L296.1 93.3 L296.9 93.7 L297.4 94.1 L297.2 94.7 L296.6 95.3 L295.7 96.0" fill="none" stroke="#7b7b7e" stroke-width="2" stroke-linejoin="round"/>
<path d="M297.5 68.2 L296.5 68.3 L295.7 68.4 L294.9 68.6 L294.2 68.8 L293.7 69.1 L293.5 69.6 L293.4 70.1 L293.5 70.7 L293.8 71.4 L294.2 72.2 L294.6 73.0 L295.2 73.8 L295.6 74.6 L296.0 75.4 L296.3 76.1 L296.4 76.7 L296.3 77.2 L296.1 77.7 L295.6 78.0 L294.9 78.2 L294.1 78.4 L293.3 78.5 L292.3 78.6" fill="none" stroke="#ff1212" stroke-width="2.9" stroke-linecap="round" stroke-linejoin="round"/>
<path d="M329.4 80.3 L329.7 79.4 L329.9 78.5 L329.9 77.9 L329.6 77.5 L329.0 77.3 L328.1 77.4 L327.1 77.6 L326.1 77.8 L325.2 77.8 L324.6 77.7 L324.3 77.3 L324.3 76.7 L324.5 75.8 L324.8 74.9 L325.1 73.9 L325.3 73.1 L325.3 72.4 L325.0 72.1 L324.4 71.9 L323.5 72.0 L322.5 72.2 L321.5 72.3 L320.6 72.4 L320.0 72.2 L319.7 71.9 L319.7 71.2 L319.9 70.4 L320.2 69.4 L320.5 68.5 L320.7 67.6 L320.7 67.0 L320.4 66.6 L319.8 66.5 L318.9 66.5 L317.9 66.7 L316.9 66.9 L316.0 67.0 L315.4 66.8 L315.1 66.4 L315.1 65.8 L315.3 64.9 L315.6 64.0" fill="none" stroke="#7b7b7e" stroke-width="2" stroke-linejoin="round"/>
<path d="M337.2 89.8 L337.5 88.9 L337.7 88.1 L337.9 87.3 L337.9 86.6 L337.8 86.0 L337.6 85.5 L337.2 85.2 L336.6 85.0 L335.9 84.9 L335.1 84.9 L334.2 85.0 L333.3 85.0 L332.4 85.1 L331.5 85.2 L330.7 85.2 L330.0 85.1 L329.4 84.9 L329.0 84.6 L328.8 84.1 L328.7 83.5 L328.7 82.8 L328.9 82.0 L329.1 81.2 L329.4 80.3" fill="none" stroke="#ff1212" stroke-width="2.9" stroke-linecap="round" stroke-linejoin="round"/>
<path d="M76.4 104.7 L75.9 103.9 L75.4 103.3 L74.9 102.9 L74.4 102.7 L73.9 102.9 L73.4 103.3 L72.9 103.9 L72.4 104.7 L71.9 105.5 L71.4 106.1 L70.9 106.5 L70.4 106.7 L69.9 106.5 L69.4 106.1 L68.9 105.5 L68.4 104.7 L67.9 103.9 L67.4 103.3 L66.9 102.9 L66.4 102.7 L65.9 102.9 L65.4 103.3 L64.9 103.9 L64.4 104.7 L63.9 105.5 L63.4 106.1 L62.9 106.5 L62.4 106.7 L61.9 106.5 L61.4 106.1 L60.9 105.5 L60.4 104.7 L59.9 103.9 L59.4 103.3 L58.9 102.9 L58.4 102.7 L57.9 102.9 L57.4 103.3 L56.9 103.9 L56.4 104.7 L55.9 105.5 L55.4 106.1 L54.9 106.5 L54.4 106.7 L53.9 106.5 L53.4 106.1 L52.9 105.5 L52.4 104.7" fill="none" stroke="#7b7b7e" stroke-width="2" stroke-linejoin="round"/>
<path d="M89.5 107.0 L89.1 106.2 L88.7 105.4 L88.3 104.8 L87.9 104.2 L87.5 103.8 L87.0 103.5 L86.5 103.4 L86.0 103.5 L85.4 103.8 L84.8 104.2 L84.2 104.7 L83.6 105.2 L83.0 105.8 L82.3 106.5 L81.7 107.0 L81.1 107.5 L80.5 107.9 L79.9 108.2 L79.4 108.3 L78.9 108.2 L78.4 107.9 L78.0 107.5 L77.6 106.9 L77.2 106.3 L76.8 105.5 L76.4 104.7" fill="none" stroke="#ff1212" stroke-width="2.9" stroke-linecap="round" stroke-linejoin="round"/>
<path d="M122.2 124.4 L122.0 125.4 L121.9 126.3 L122.1 126.9 L122.5 127.2 L123.2 127.1 L124.1 126.8 L125.1 126.5 L126.0 126.1 L126.8 126.0 L127.3 126.2 L127.6 126.6 L127.6 127.4 L127.4 128.4 L127.2 129.5 L127.0 130.4 L127.1 131.1 L127.4 131.5 L128.0 131.5 L128.9 131.3 L129.8 130.9 L130.8 130.6 L131.7 130.4 L132.3 130.4 L132.6 130.8 L132.7 131.5 L132.5 132.4 L132.3 133.5 L132.1 134.5 L132.1 135.3 L132.4 135.7 L132.9 135.9 L133.7 135.8 L134.6 135.4 L135.6 135.1 L136.5 134.8 L137.2 134.7 L137.6 135.0 L137.8 135.6 L137.7 136.5 L137.5 137.5" fill="none" stroke="#7b7b7e" stroke-width="2" stroke-linejoin="round"/>
<path d="M113.5 113.5 L113.3 114.3 L113.1 115.1 L113.0 115.9 L112.9 116.6 L113.0 117.2 L113.1 117.8 L113.4 118.2 L113.8 118.5 L114.4 118.8 L115.0 118.9 L115.8 119.0 L116.6 119.0 L117.4 119.0 L118.3 118.9 L119.1 118.9 L119.9 118.9 L120.7 119.0 L121.3 119.1 L121.9 119.4 L122.3 119.7 L122.6 120.1 L122.7 120.7 L122.8 121.3 L122.7 122.0 L122.6 122.8 L122.4 123.6 L122.2 124.4" fill="none" stroke="#ff1212" stroke-width="2.9" stroke-linecap="round" stroke-linejoin="round"/>
<path d="M174.6 113.5 L175.0 112.5 L175.2 111.7 L175.1 111.1 L174.7 110.7 L174.0 110.7 L173.1 110.8 L172.1 111.0 L171.1 111.2 L170.3 111.2 L169.8 111.0 L169.6 110.5 L169.8 109.7 L170.1 108.7 L170.5 107.7 L170.8 106.8 L170.8 106.1 L170.5 105.7 L169.9 105.6 L169.1 105.6 L168.1 105.8 L167.0 106.1 L166.2 106.1 L165.6 106.0 L165.3 105.6 L165.3 104.9 L165.6 104.0 L166.0 103.0 L166.3 102.0 L166.5 101.2 L166.3 100.7 L165.8 100.5 L165.0 100.5 L164.0 100.7 L163.0 100.9 L162.1 101.0 L161.4 101.0 L161.0 100.6 L160.9 100.0 L161.1 99.2 L161.5 98.2" fill="none" stroke="#7b7b7e" stroke-width="2" stroke-linejoin="round"/>
<path d="M183.3 124.4 L183.5 123.6 L183.7 122.8 L183.8 122.0 L183.9 121.3 L183.8 120.7 L183.7 120.1 L183.4 119.7 L183.0 119.4 L182.4 119.1 L181.8 119.0 L181.0 118.9 L180.2 118.9 L179.4 118.9 L178.5 119.0 L177.7 119.0 L176.9 119.0 L176.1 118.9 L175.5 118.8 L174.9 118.5 L174.5 118.2 L174.2 117.8 L174.1 117.2 L174.0 116.6 L174.1 115.9 L174.2 115.1 L174.4 114.3 L174.6 113.5" fill="none" stroke="#ff1212" stroke-width="2.9" stroke-linecap="round" stroke-linejoin="round"/>
<path d="M213.8 115.7 L214.3 116.5 L214.8 117.2 L215.3 117.6 L215.8 117.7 L216.3 117.3 L216.9 116.7 L217.4 115.8 L217.9 115.0 L218.4 114.3 L218.9 113.8 L219.4 113.7 L219.9 114.0 L220.4 114.6 L220.9 115.4 L221.4 116.3 L221.9 117.0 L222.5 117.5 L223.0 117.7 L223.5 117.5 L224.0 116.9 L224.5 116.1 L225.0 115.3 L225.5 114.5 L226.0 113.9 L226.5 113.7 L227.0 113.9 L227.6 114.4 L228.1 115.1 L228.6 116.0 L229.1 116.8 L229.6 117.4 L230.1 117.7 L230.6 117.6 L231.1 117.1 L231.6 116.4 L232.1 115.6 L232.6 114.7 L233.2 114.1 L233.7 113.7 L234.2 113.8 L234.7 114.2 L235.2 114.9 L235.7 115.7" fill="none" stroke="#7b7b7e" stroke-width="2" stroke-linejoin="round"/>
<path d="M200.7 111.3 L201.0 112.1 L201.2 112.9 L201.5 113.6 L201.9 114.2 L202.2 114.7 L202.7 115.1 L203.1 115.3 L203.7 115.3 L204.2 115.2 L204.9 115.0 L205.5 114.7 L206.2 114.2 L206.9 113.7 L207.6 113.3 L208.3 112.8 L209.0 112.3 L209.6 112.0 L210.3 111.8 L210.8 111.7 L211.4 111.7 L211.8 111.9 L212.3 112.3 L212.6 112.8 L213.0 113.4 L213.3 114.1 L213.5 114.9 L213.8 115.7" fill="none" stroke="#ff1212" stroke-width="2.9" stroke-linecap="round" stroke-linejoin="round"/>
<path d="M80.7 144.0 L79.8 143.6 L79.0 143.4 L78.3 143.4 L77.9 143.6 L77.7 144.2 L77.7 145.0 L77.8 146.0 L77.9 147.0 L77.9 147.9 L77.8 148.5 L77.4 148.9 L76.9 149.0 L76.1 148.8 L75.2 148.5 L74.3 148.1 L73.4 147.8 L72.7 147.7 L72.2 147.8 L71.9 148.3 L71.9 149.1 L71.9 150.0 L72.1 151.0 L72.1 151.9 L72.1 152.7 L71.8 153.2 L71.3 153.3 L70.6 153.2 L69.7 152.9 L68.8 152.5 L67.9 152.2 L67.1 152.0 L66.6 152.1 L66.2 152.5 L66.1 153.1 L66.1 154.0 L66.2 155.0 L66.3 156.0 L66.3 156.8 L66.1 157.4 L65.7 157.6 L65.0 157.6 L64.2 157.4 L63.3 157.0" fill="none" stroke="#7b7b7e" stroke-width="2" stroke-linejoin="round"/>
<path d="M91.6 137.5 L90.8 137.1 L90.0 136.8 L89.2 136.5 L88.6 136.4 L88.0 136.3 L87.5 136.5 L87.0 136.8 L86.7 137.2 L86.5 137.9 L86.3 138.6 L86.2 139.4 L86.2 140.3 L86.1 141.2 L86.1 142.1 L86.0 142.9 L85.8 143.6 L85.6 144.3 L85.3 144.7 L84.8 145.0 L84.3 145.2 L83.7 145.1 L83.1 145.0 L82.3 144.7 L81.5 144.4 L80.7 144.0" fill="none" stroke="#ff1212" stroke-width="2.9" stroke-linecap="round" stroke-linejoin="round"/>
<path d="M163.7 157.0 L164.4 156.5 L165.0 156.0 L165.5 155.5 L165.7 155.0 L165.6 154.5 L165.3 153.9 L164.8 153.4 L164.1 152.9 L163.3 152.4 L162.6 151.9 L162.1 151.4 L161.8 150.9 L161.7 150.4 L161.9 149.9 L162.4 149.4 L163.0 148.9 L163.7 148.3 L164.4 147.8 L165.0 147.3 L165.5 146.8 L165.7 146.3 L165.6 145.8 L165.3 145.3 L164.8 144.8 L164.1 144.3 L163.3 143.8 L162.6 143.3 L162.1 142.8 L161.8 142.2 L161.7 141.7 L161.9 141.2 L162.4 140.7 L163.0 140.2 L163.7 139.7" fill="none" stroke="#7b7b7e" stroke-width="2" stroke-linejoin="round"/>
<path d="M161.5 172.4 L162.2 172.0 L162.8 171.6 L163.4 171.2 L163.9 170.7 L164.4 170.3 L164.7 169.8 L164.9 169.3 L165.0 168.8 L165.0 168.3 L164.9 167.8 L164.6 167.3 L164.3 166.7 L163.9 166.1 L163.4 165.6 L162.9 165.0 L162.3 164.4 L161.8 163.8 L161.3 163.3 L160.9 162.7 L160.6 162.1 L160.3 161.6 L160.2 161.1 L160.2 160.6 L160.3 160.1 L160.5 159.6 L160.8 159.1 L161.3 158.7 L161.8 158.2 L162.4 157.8 L163.0 157.4 L163.7 157.0" fill="none" stroke="#ff1212" stroke-width="2.9" stroke-linecap="round" stroke-linejoin="round"/>
<path d="M207.3 155.0 L208.0 154.5 L208.6 154.0 L209.1 153.5 L209.3 153.0 L209.2 152.5 L209.0 152.0 L208.5 151.5 L207.8 151.0 L207.1 150.5 L206.4 150.0 L205.9 149.5 L205.5 149.0 L205.3 148.5 L205.4 148.0 L205.7 147.5 L206.3 147.0 L206.9 146.5 L207.7 146.0 L208.3 145.5 L208.9 145.0 L209.2 144.5 L209.3 144.0 L209.1 143.5 L208.7 143.0 L208.2 142.5 L207.5 142.0 L206.8 141.5 L206.1 141.0 L205.6 140.5 L205.4 140.0 L205.3 139.5 L205.5 139.0 L206.0 138.5 L206.6 138.0 L207.3 137.5" fill="none" stroke="#7b7b7e" stroke-width="2" stroke-linejoin="round"/>
<path d="M205.0 170.0 L205.7 169.6 L206.4 169.2 L207.0 168.8 L207.5 168.3 L208.0 167.9 L208.3 167.4 L208.5 167.0 L208.6 166.5 L208.5 165.9 L208.3 165.4 L208.0 164.8 L207.7 164.3 L207.2 163.7 L206.7 163.1 L206.2 162.5 L205.6 161.9 L205.1 161.3 L204.6 160.7 L204.3 160.2 L204.0 159.6 L203.8 159.1 L203.7 158.5 L203.8 158.0 L204.0 157.6 L204.3 157.1 L204.8 156.7 L205.3 156.2 L205.9 155.8 L206.6 155.4 L207.3 155.0" fill="none" stroke="#ff1212" stroke-width="2.9" stroke-linecap="round" stroke-linejoin="round"/>
<path d="M253.0 161.5 L252.1 161.1 L251.3 160.9 L250.6 160.9 L250.2 161.2 L250.0 161.7 L250.0 162.5 L250.1 163.5 L250.2 164.5 L250.2 165.4 L250.1 166.1 L249.8 166.4 L249.2 166.5 L248.4 166.3 L247.5 166.0 L246.6 165.6 L245.8 165.3 L245.0 165.2 L244.6 165.4 L244.3 165.9 L244.2 166.6 L244.3 167.6 L244.4 168.5 L244.5 169.5 L244.4 170.2 L244.1 170.7 L243.7 170.9 L242.9 170.8 L242.1 170.5 L241.2 170.1 L240.3 169.8 L239.5 169.6 L238.9 169.7 L238.6 170.0 L238.5 170.7 L238.5 171.6 L238.6 172.6 L238.7 173.6 L238.7 174.4 L238.5 174.9 L238.1 175.2 L237.4 175.2 L236.6 175.0 L235.7 174.6" fill="none" stroke="#7b7b7e" stroke-width="2" stroke-linejoin="round"/>
<path d="M262.0 155.0 L261.1 154.6 L260.2 154.3 L259.4 154.0 L258.8 154.0 L258.2 154.1 L257.8 154.4 L257.5 154.9 L257.4 155.5 L257.4 156.3 L257.4 157.3 L257.5 158.2 L257.6 159.2 L257.6 160.2 L257.6 161.0 L257.5 161.6 L257.2 162.1 L256.8 162.4 L256.2 162.5 L255.6 162.5 L254.8 162.2 L253.9 161.9 L253.0 161.5" fill="none" stroke="#ff1212" stroke-width="2.9" stroke-linecap="round" stroke-linejoin="round"/>
<path d="M290.0 137.5 L289.6 136.7 L289.1 136.0 L288.7 135.5 L288.2 135.3 L287.7 135.4 L287.1 135.8 L286.6 136.4 L286.0 137.1 L285.4 137.8 L284.9 138.4 L284.3 138.8 L283.8 138.9 L283.3 138.7 L282.9 138.3 L282.4 137.6 L282.0 136.8 L281.6 136.0 L281.1 135.3 L280.7 134.8 L280.2 134.6 L279.7 134.7 L279.1 135.1 L278.6 135.7 L278.0 136.4 L277.4 137.1 L276.9 137.7 L276.3 138.1 L275.8 138.2 L275.3 138.0 L274.9 137.5 L274.4 136.8 L274.0 136.0 L273.6 135.2 L273.1 134.5 L272.7 134.1 L272.2 133.9 L271.7 134.0 L271.1 134.4 L270.6 135.0 L270.0 135.7 L269.4 136.4 L268.9 137.0 L268.3 137.4 L267.8 137.5 L267.3 137.3 L266.9 136.8 L266.4 136.1 L266.0 135.3" fill="none" stroke="#7b7b7e" stroke-width="2" stroke-linejoin="round"/>
<path d="M301.0 139.7 L300.7 138.8 L300.3 137.9 L299.9 137.2 L299.5 136.6 L299.1 136.3 L298.6 136.2 L298.0 136.3 L297.4 136.7 L296.8 137.2 L296.2 137.9 L295.5 138.6 L294.8 139.3 L294.2 140.0 L293.6 140.5 L293.0 140.9 L292.4 141.0 L291.9 140.9 L291.5 140.6 L291.1 140.0 L290.7 139.3 L290.3 138.4 L290.0 137.5" fill="none" stroke="#ff1212" stroke-width="2.9" stroke-linecap="round" stroke-linejoin="round"/>
<path d="M316.4 155.0 L316.2 156.0 L316.0 156.8 L316.1 157.4 L316.4 157.8 L317.0 157.9 L317.8 157.8 L318.8 157.6 L319.8 157.3 L320.6 157.2 L321.3 157.2 L321.7 157.5 L321.9 158.0 L321.8 158.8 L321.6 159.7 L321.3 160.7 L321.2 161.6 L321.2 162.3 L321.4 162.8 L321.9 163.0 L322.7 162.9 L323.6 162.7 L324.5 162.5 L325.4 162.3 L326.2 162.2 L326.7 162.4 L326.9 162.9 L326.9 163.6 L326.8 164.5 L326.5 165.5 L326.3 166.4 L326.2 167.2 L326.4 167.7 L326.8 168.0 L327.5 168.0 L328.3 167.9 L329.3 167.6 L330.3 167.4 L331.1 167.3 L331.7 167.4 L332.0 167.8 L332.1 168.4 L331.9 169.2 L331.7 170.2" fill="none" stroke="#7b7b7e" stroke-width="2" stroke-linejoin="round"/>
<path d="M310.0 144.0 L309.6 144.8 L309.3 145.6 L309.0 146.4 L308.8 147.0 L308.8 147.6 L308.9 148.1 L309.2 148.6 L309.7 148.9 L310.3 149.1 L311.0 149.3 L311.9 149.4 L312.7 149.5 L313.7 149.5 L314.5 149.6 L315.4 149.7 L316.1 149.9 L316.7 150.1 L317.2 150.4 L317.5 150.9 L317.6 151.4 L317.6 152.0 L317.4 152.6 L317.1 153.4 L316.8 154.2 L316.4 155.0" fill="none" stroke="#ff1212" stroke-width="2.9" stroke-linecap="round" stroke-linejoin="round"/>
<path d="M80 -1 L78 3" stroke="#7e7e80" stroke-width="2"/>
<text x="83.3" y="214.7" textLength="229.2" lengthAdjust="spacingAndGlyphs" font-family="Liberation Sans, sans-serif" font-size="28.5" fill="#151515" stroke="#151515" stroke-width="0.4">Amphiphilic BCPs</text>
<path d="M368 61.2 L516 59" stroke="#000" stroke-width="3.8" fill="none"/>
<path d="M505 52 L518.5 58.8 L505 66.5" stroke="#000" stroke-width="3.5" fill="none" stroke-linecap="round" stroke-linejoin="round"/>
<text x="427.5" y="43" textLength="37" lengthAdjust="spacingAndGlyphs" font-family="Liberation Sans, sans-serif" font-size="28.5" fill="#151515" stroke="#151515" stroke-width="0.4"><tspan font-size="32">(</tspan>a<tspan font-size="32">)</tspan></text>
<text x="379.3" y="96.7" textLength="127.7" lengthAdjust="spacingAndGlyphs" font-family="Liberation Sans, sans-serif" font-size="28.5" fill="#151515" stroke="#151515" stroke-width="0.4">Assemble</text>
<polygon points="549.5,0 682,0 682,203 559,138" fill="#8d8d8d"/>
<polygon points="682,0 815,0 807,138 682,203" fill="#979797"/>
<polygon points="630,0 682,14 712,0" fill="#a9a9a9"/>
<use href="#mTop" transform="translate(621.8 47.7) rotate(0) scale(1.475)"/>
<use href="#mTop" transform="translate(720.0 19.0) rotate(30) scale(1.170)"/>
<use href="#mTop" transform="translate(699.6 58.5) rotate(60) scale(0.765)"/>
<use href="#mTop" transform="translate(744.0 62.3) rotate(90) scale(0.825)"/>
<use href="#mTop" transform="translate(681.8 98.0) rotate(120) scale(0.790)"/>
<use href="#mTop" transform="translate(699.6 117.0) rotate(150) scale(0.700)"/>
<use href="#mTop" transform="translate(768.3 112.0) rotate(200) scale(1.270)"/>
<use href="#mTop" transform="translate(690.0 154.5) rotate(250) scale(1.350)"/>
<use href="#mTop" transform="translate(686.0 -13.0) rotate(10) scale(0.750)"/>
<clipPath id="splitc"><circle cx="681.8" cy="98" r="15"/><circle cx="699.6" cy="117" r="13.5"/><circle cx="690" cy="154.5" r="26.5"/></clipPath>
<rect x="640" y="70" width="42" height="120" fill="#000" opacity="0.3" clip-path="url(#splitc)"/>
<text x="620.9" y="235.9" textLength="110.4" lengthAdjust="spacingAndGlyphs" font-family="Liberation Sans, sans-serif" font-size="28.5" fill="#151515" stroke="#151515" stroke-width="0.4">Micelles</text>
<path d="M802.5 138.8 L988.5 222.4" stroke="#000" stroke-width="3.4" stroke-dasharray="12 7" fill="none"/>
<rect x="989" y="0" width="348.5" height="223" fill="#848484"/>
<rect x="989" y="0" width="348.5" height="223" fill="#fff" filter="url(#noise)" opacity="0.2"/>
<clipPath id="temclip"><rect x="989" y="0" width="348.5" height="223"/></clipPath>
<g clip-path="url(#temclip)"><g filter="url(#blur1)"><circle cx="1002.8" cy="25.0" r="9.2" fill="#b0b0b0"/><circle cx="1014.3" cy="12.5" r="9.2" fill="#b0b0b0"/><circle cx="1026.8" cy="26.0" r="9.2" fill="#b0b0b0"/><circle cx="1001.7" cy="40.8" r="9.2" fill="#b0b0b0"/><circle cx="994.4" cy="12.5" r="9.2" fill="#b0b0b0"/><circle cx="1008.0" cy="4.2" r="9.2" fill="#b0b0b0"/><circle cx="1022.6" cy="2.0" r="9.2" fill="#b0b0b0"/><circle cx="1039.4" cy="18.8" r="9.2" fill="#b0b0b0"/><circle cx="1045.6" cy="5.2" r="9.2" fill="#b0b0b0"/><circle cx="1059.0" cy="0.0" r="9.2" fill="#b0b0b0"/><circle cx="1058.0" cy="12.5" r="9.2" fill="#b0b0b0"/><circle cx="1052.0" cy="25.0" r="9.2" fill="#b0b0b0"/><circle cx="1068.6" cy="27.2" r="9.2" fill="#b0b0b0"/><circle cx="1075.0" cy="34.5" r="9.2" fill="#b0b0b0"/><circle cx="1054.0" cy="36.6" r="9.2" fill="#b0b0b0"/><circle cx="1041.4" cy="33.5" r="9.2" fill="#b0b0b0"/><circle cx="993.4" cy="27.2" r="9.2" fill="#b0b0b0"/><circle cx="991.5" cy="3.3" r="9.2" fill="#b0b0b0"/><circle cx="1005.7" cy="6.5" r="9.2" fill="#b0b0b0"/><circle cx="1021.0" cy="4.4" r="9.2" fill="#b0b0b0"/><circle cx="1045.0" cy="5.5" r="9.2" fill="#b0b0b0"/><circle cx="1060.0" cy="1.0" r="9.2" fill="#b0b0b0"/><circle cx="993.7" cy="16.4" r="9.2" fill="#b0b0b0"/><circle cx="1014.4" cy="18.5" r="9.2" fill="#b0b0b0"/><circle cx="1028.6" cy="14.2" r="9.2" fill="#b0b0b0"/><circle cx="1039.5" cy="20.7" r="9.2" fill="#b0b0b0"/><circle cx="1052.6" cy="12.0" r="9.2" fill="#b0b0b0"/><circle cx="1063.5" cy="9.8" r="9.2" fill="#b0b0b0"/><circle cx="1003.5" cy="25.0" r="9.2" fill="#b0b0b0"/><circle cx="1025.3" cy="27.3" r="9.2" fill="#b0b0b0"/><circle cx="1054.8" cy="26.2" r="9.2" fill="#b0b0b0"/><circle cx="1067.9" cy="27.3" r="9.2" fill="#b0b0b0"/><circle cx="1076.6" cy="33.8" r="9.2" fill="#b0b0b0"/><circle cx="1001.4" cy="40.4" r="9.2" fill="#b0b0b0"/><circle cx="1013.4" cy="31.6" r="9.2" fill="#b0b0b0"/><circle cx="1046.0" cy="32.7" r="9.2" fill="#b0b0b0"/><circle cx="1057.0" cy="35.0" r="9.2" fill="#b0b0b0"/><circle cx="1067.6" cy="45.0" r="9.2" fill="#b0b0b0"/><circle cx="1078.0" cy="49.0" r="9.2" fill="#b0b0b0"/><circle cx="1066.5" cy="59.6" r="9.2" fill="#b0b0b0"/><circle cx="1072.8" cy="73.2" r="9.2" fill="#b0b0b0"/><circle cx="1060.3" cy="84.7" r="9.2" fill="#b0b0b0"/><circle cx="1084.3" cy="85.7" r="9.2" fill="#b0b0b0"/><circle cx="1057.0" cy="102.4" r="9.2" fill="#b0b0b0"/><circle cx="1042.5" cy="114.0" r="9.2" fill="#b0b0b0"/><circle cx="1103.0" cy="14.6" r="9.2" fill="#b0b0b0"/><circle cx="1124.0" cy="25.0" r="9.2" fill="#b0b0b0"/><circle cx="1104.2" cy="27.2" r="9.2" fill="#b0b0b0"/><circle cx="1110.4" cy="44.0" r="9.2" fill="#b0b0b0"/><circle cx="1123.0" cy="46.0" r="9.2" fill="#b0b0b0"/><circle cx="1150.0" cy="48.0" r="9.2" fill="#b0b0b0"/><circle cx="1114.6" cy="62.7" r="9.2" fill="#b0b0b0"/><circle cx="1101.0" cy="69.0" r="9.2" fill="#b0b0b0"/><circle cx="1146.0" cy="62.7" r="9.2" fill="#b0b0b0"/><circle cx="1154.3" cy="74.2" r="9.2" fill="#b0b0b0"/><circle cx="1124.0" cy="80.5" r="9.2" fill="#b0b0b0"/><circle cx="1139.7" cy="92.0" r="9.2" fill="#b0b0b0"/><circle cx="1131.4" cy="64.8" r="9.2" fill="#b0b0b0"/><circle cx="1174.6" cy="33.5" r="9.2" fill="#b0b0b0"/><circle cx="1190.3" cy="32.4" r="9.2" fill="#b0b0b0"/><circle cx="1182.0" cy="45.0" r="9.2" fill="#b0b0b0"/><circle cx="1198.7" cy="42.9" r="9.2" fill="#b0b0b0"/><circle cx="1215.4" cy="48.0" r="9.2" fill="#b0b0b0"/><circle cx="1227.0" cy="59.6" r="9.2" fill="#b0b0b0"/><circle cx="1267.7" cy="-2.0" r="9.2" fill="#b0b0b0"/><circle cx="1287.5" cy="4.2" r="9.2" fill="#b0b0b0"/><circle cx="1300.0" cy="11.5" r="9.2" fill="#b0b0b0"/><circle cx="1288.6" cy="18.8" r="9.2" fill="#b0b0b0"/><circle cx="1313.7" cy="23.0" r="9.2" fill="#b0b0b0"/><circle cx="1296.0" cy="32.4" r="9.2" fill="#b0b0b0"/><circle cx="1304.3" cy="27.2" r="9.2" fill="#b0b0b0"/><circle cx="1333.0" cy="52.3" r="9.2" fill="#b0b0b0"/><circle cx="1337.0" cy="83.6" r="9.2" fill="#b0b0b0"/><circle cx="1025.8" cy="123.6" r="9.2" fill="#b0b0b0"/><circle cx="1041.4" cy="117.3" r="9.2" fill="#b0b0b0"/><circle cx="1055.0" cy="119.4" r="9.2" fill="#b0b0b0"/><circle cx="993.4" cy="133.0" r="9.2" fill="#b0b0b0"/><circle cx="1070.7" cy="134.0" r="9.2" fill="#b0b0b0"/><circle cx="1054.0" cy="135.0" r="9.2" fill="#b0b0b0"/><circle cx="1052.0" cy="145.5" r="9.2" fill="#b0b0b0"/><circle cx="1062.4" cy="144.5" r="9.2" fill="#b0b0b0"/><circle cx="1044.6" cy="156.0" r="9.2" fill="#b0b0b0"/><circle cx="1058.2" cy="159.0" r="9.2" fill="#b0b0b0"/><circle cx="1036.2" cy="166.5" r="9.2" fill="#b0b0b0"/><circle cx="1047.7" cy="173.8" r="9.2" fill="#b0b0b0"/><circle cx="1041.4" cy="188.4" r="9.2" fill="#b0b0b0"/><circle cx="1043.5" cy="205.0" r="9.2" fill="#b0b0b0"/><circle cx="1057.0" cy="208.3" r="9.2" fill="#b0b0b0"/><circle cx="1098.0" cy="123.6" r="9.2" fill="#b0b0b0"/><circle cx="1091.6" cy="138.2" r="9.2" fill="#b0b0b0"/><circle cx="1101.0" cy="148.7" r="9.2" fill="#b0b0b0"/><circle cx="1113.6" cy="146.6" r="9.2" fill="#b0b0b0"/><circle cx="1101.0" cy="165.4" r="9.2" fill="#b0b0b0"/><circle cx="1095.8" cy="179.0" r="9.2" fill="#b0b0b0"/><circle cx="1102.0" cy="194.7" r="9.2" fill="#b0b0b0"/><circle cx="1092.7" cy="209.3" r="9.2" fill="#b0b0b0"/><circle cx="1106.3" cy="209.3" r="9.2" fill="#b0b0b0"/><circle cx="1144.0" cy="216.6" r="9.2" fill="#b0b0b0"/><circle cx="1156.4" cy="219.8" r="9.2" fill="#b0b0b0"/><circle cx="1131.4" cy="220.8" r="9.2" fill="#b0b0b0"/><circle cx="1212.3" cy="118.4" r="9.2" fill="#b0b0b0"/><circle cx="1208.0" cy="132.0" r="9.2" fill="#b0b0b0"/><circle cx="1206.0" cy="147.6" r="9.2" fill="#b0b0b0"/><circle cx="1218.5" cy="145.5" r="9.2" fill="#b0b0b0"/><circle cx="1229.0" cy="143.5" r="9.2" fill="#b0b0b0"/><circle cx="1238.4" cy="165.4" r="9.2" fill="#b0b0b0"/><circle cx="1231.0" cy="177.0" r="9.2" fill="#b0b0b0"/><circle cx="1233.0" cy="191.5" r="9.2" fill="#b0b0b0"/><circle cx="1245.7" cy="181.0" r="9.2" fill="#b0b0b0"/><circle cx="1257.2" cy="182.0" r="9.2" fill="#b0b0b0"/><circle cx="1270.8" cy="168.5" r="9.2" fill="#b0b0b0"/><circle cx="1270.8" cy="182.0" r="9.2" fill="#b0b0b0"/><circle cx="1285.4" cy="174.8" r="9.2" fill="#b0b0b0"/><circle cx="1275.0" cy="195.7" r="9.2" fill="#b0b0b0"/><circle cx="1262.4" cy="197.8" r="9.2" fill="#b0b0b0"/><circle cx="1287.5" cy="202.0" r="9.2" fill="#b0b0b0"/><circle cx="1255.0" cy="208.3" r="9.2" fill="#b0b0b0"/><circle cx="1239.5" cy="214.5" r="9.2" fill="#b0b0b0"/><circle cx="1266.6" cy="215.6" r="9.2" fill="#b0b0b0"/><circle cx="1293.8" cy="214.5" r="9.2" fill="#b0b0b0"/><circle cx="1227.0" cy="219.8" r="9.2" fill="#b0b0b0"/><circle cx="1306.4" cy="163.3" r="9.2" fill="#b0b0b0"/><circle cx="1315.8" cy="157.0" r="9.2" fill="#b0b0b0"/><circle cx="1330.4" cy="149.7" r="9.2" fill="#b0b0b0"/><circle cx="1329.3" cy="169.6" r="9.2" fill="#b0b0b0"/><circle cx="1323.0" cy="183.0" r="9.2" fill="#b0b0b0"/><circle cx="1323.0" cy="200.0" r="9.2" fill="#b0b0b0"/><circle cx="1331.4" cy="210.4" r="9.2" fill="#b0b0b0"/><circle cx="1325.2" cy="218.7" r="9.2" fill="#b0b0b0"/><circle cx="1160.0" cy="221.0" r="9.2" fill="#b0b0b0"/><circle cx="1002.8" cy="25.0" r="8" fill="#4a4a4a"/><circle cx="1014.3" cy="12.5" r="8" fill="#555555"/><circle cx="1026.8" cy="26.0" r="8" fill="#606060"/><circle cx="1001.7" cy="40.8" r="8" fill="#404040"/><circle cx="994.4" cy="12.5" r="8" fill="#505050"/><circle cx="1008.0" cy="4.2" r="8" fill="#666666"/><circle cx="1022.6" cy="2.0" r="8" fill="#5a5a5a"/><circle cx="1039.4" cy="18.8" r="8" fill="#4a4a4a"/><circle cx="1045.6" cy="5.2" r="8" fill="#555555"/><circle cx="1059.0" cy="0.0" r="8" fill="#606060"/><circle cx="1058.0" cy="12.5" r="8" fill="#404040"/><circle cx="1052.0" cy="25.0" r="8" fill="#505050"/><circle cx="1068.6" cy="27.2" r="8" fill="#666666"/><circle cx="1075.0" cy="34.5" r="8" fill="#5a5a5a"/><circle cx="1054.0" cy="36.6" r="8" fill="#4a4a4a"/><circle cx="1041.4" cy="33.5" r="8" fill="#555555"/><circle cx="993.4" cy="27.2" r="8" fill="#606060"/><circle cx="991.5" cy="3.3" r="8" fill="#404040"/><circle cx="1005.7" cy="6.5" r="8" fill="#505050"/><circle cx="1021.0" cy="4.4" r="8" fill="#666666"/><circle cx="1045.0" cy="5.5" r="8" fill="#5a5a5a"/><circle cx="1060.0" cy="1.0" r="8" fill="#4a4a4a"/><circle cx="993.7" cy="16.4" r="8" fill="#555555"/><circle cx="1014.4" cy="18.5" r="8" fill="#606060"/><circle cx="1028.6" cy="14.2" r="8" fill="#404040"/><circle cx="1039.5" cy="20.7" r="8" fill="#505050"/><circle cx="1052.6" cy="12.0" r="8" fill="#666666"/><circle cx="1063.5" cy="9.8" r="8" fill="#5a5a5a"/><circle cx="1003.5" cy="25.0" r="8" fill="#4a4a4a"/><circle cx="1025.3" cy="27.3" r="8" fill="#555555"/><circle cx="1054.8" cy="26.2" r="8" fill="#606060"/><circle cx="1067.9" cy="27.3" r="8" fill="#404040"/><circle cx="1076.6" cy="33.8" r="8" fill="#505050"/><circle cx="1001.4" cy="40.4" r="8" fill="#666666"/><circle cx="1013.4" cy="31.6" r="8" fill="#5a5a5a"/><circle cx="1046.0" cy="32.7" r="8" fill="#4a4a4a"/><circle cx="1057.0" cy="35.0" r="8" fill="#555555"/><circle cx="1067.6" cy="45.0" r="8" fill="#606060"/><circle cx="1078.0" cy="49.0" r="8" fill="#404040"/><circle cx="1066.5" cy="59.6" r="8" fill="#505050"/><circle cx="1072.8" cy="73.2" r="8" fill="#666666"/><circle cx="1060.3" cy="84.7" r="8" fill="#5a5a5a"/><circle cx="1084.3" cy="85.7" r="8" fill="#4a4a4a"/><circle cx="1057.0" cy="102.4" r="8" fill="#555555"/><circle cx="1042.5" cy="114.0" r="8" fill="#606060"/><circle cx="1103.0" cy="14.6" r="8" fill="#404040"/><circle cx="1124.0" cy="25.0" r="8" fill="#505050"/><circle cx="1104.2" cy="27.2" r="8" fill="#666666"/><circle cx="1110.4" cy="44.0" r="8" fill="#5a5a5a"/><circle cx="1123.0" cy="46.0" r="8" fill="#4a4a4a"/><circle cx="1150.0" cy="48.0" r="8" fill="#555555"/><circle cx="1114.6" cy="62.7" r="8" fill="#606060"/><circle cx="1101.0" cy="69.0" r="8" fill="#404040"/><circle cx="1146.0" cy="62.7" r="8" fill="#505050"/><circle cx="1154.3" cy="74.2" r="8" fill="#666666"/><circle cx="1124.0" cy="80.5" r="8" fill="#5a5a5a"/><circle cx="1139.7" cy="92.0" r="8" fill="#4a4a4a"/><circle cx="1131.4" cy="64.8" r="8" fill="#555555"/><circle cx="1174.6" cy="33.5" r="8" fill="#606060"/><circle cx="1190.3" cy="32.4" r="8" fill="#404040"/><circle cx="1182.0" cy="45.0" r="8" fill="#505050"/><circle cx="1198.7" cy="42.9" r="8" fill="#666666"/><circle cx="1215.4" cy="48.0" r="8" fill="#5a5a5a"/><circle cx="1227.0" cy="59.6" r="8" fill="#4a4a4a"/><circle cx="1267.7" cy="-2.0" r="8" fill="#555555"/><circle cx="1287.5" cy="4.2" r="8" fill="#606060"/><circle cx="1300.0" cy="11.5" r="8" fill="#404040"/><circle cx="1288.6" cy="18.8" r="8" fill="#505050"/><circle cx="1313.7" cy="23.0" r="8" fill="#666666"/><circle cx="1296.0" cy="32.4" r="8" fill="#5a5a5a"/><circle cx="1304.3" cy="27.2" r="8" fill="#4a4a4a"/><circle cx="1333.0" cy="52.3" r="8" fill="#555555"/><circle cx="1337.0" cy="83.6" r="8" fill="#606060"/><circle cx="1025.8" cy="123.6" r="8" fill="#404040"/><circle cx="1041.4" cy="117.3" r="8" fill="#505050"/><circle cx="1055.0" cy="119.4" r="8" fill="#666666"/><circle cx="993.4" cy="133.0" r="8" fill="#5a5a5a"/><circle cx="1070.7" cy="134.0" r="8" fill="#4a4a4a"/><circle cx="1054.0" cy="135.0" r="8" fill="#555555"/><circle cx="1052.0" cy="145.5" r="8" fill="#606060"/><circle cx="1062.4" cy="144.5" r="8" fill="#404040"/><circle cx="1044.6" cy="156.0" r="8" fill="#505050"/><circle cx="1058.2" cy="159.0" r="8" fill="#666666"/><circle cx="1036.2" cy="166.5" r="8" fill="#5a5a5a"/><circle cx="1047.7" cy="173.8" r="8" fill="#4a4a4a"/><circle cx="1041.4" cy="188.4" r="8" fill="#555555"/><circle cx="1043.5" cy="205.0" r="8" fill="#606060"/><circle cx="1057.0" cy="208.3" r="8" fill="#404040"/><circle cx="1098.0" cy="123.6" r="8" fill="#505050"/><circle cx="1091.6" cy="138.2" r="8" fill="#666666"/><circle cx="1101.0" cy="148.7" r="8" fill="#5a5a5a"/><circle cx="1113.6" cy="146.6" r="8" fill="#4a4a4a"/><circle cx="1101.0" cy="165.4" r="8" fill="#555555"/><circle cx="1095.8" cy="179.0" r="8" fill="#606060"/><circle cx="1102.0" cy="194.7" r="8" fill="#404040"/><circle cx="1092.7" cy="209.3" r="8" fill="#505050"/><circle cx="1106.3" cy="209.3" r="8" fill="#666666"/><circle cx="1144.0" cy="216.6" r="8" fill="#5a5a5a"/><circle cx="1156.4" cy="219.8" r="8" fill="#4a4a4a"/><circle cx="1131.4" cy="220.8" r="8" fill="#555555"/><circle cx="1212.3" cy="118.4" r="8" fill="#606060"/><circle cx="1208.0" cy="132.0" r="8" fill="#404040"/><circle cx="1206.0" cy="147.6" r="8" fill="#505050"/><circle cx="1218.5" cy="145.5" r="8" fill="#666666"/><circle cx="1229.0" cy="143.5" r="8" fill="#5a5a5a"/><circle cx="1238.4" cy="165.4" r="8" fill="#4a4a4a"/><circle cx="1231.0" cy="177.0" r="8" fill="#555555"/><circle cx="1233.0" cy="191.5" r="8" fill="#606060"/><circle cx="1245.7" cy="181.0" r="8" fill="#404040"/><circle cx="1257.2" cy="182.0" r="8" fill="#505050"/><circle cx="1270.8" cy="168.5" r="8" fill="#666666"/><circle cx="1270.8" cy="182.0" r="8" fill="#5a5a5a"/><circle cx="1285.4" cy="174.8" r="8" fill="#4a4a4a"/><circle cx="1275.0" cy="195.7" r="8" fill="#555555"/><circle cx="1262.4" cy="197.8" r="8" fill="#606060"/><circle cx="1287.5" cy="202.0" r="8" fill="#404040"/><circle cx="1255.0" cy="208.3" r="8" fill="#505050"/><circle cx="1239.5" cy="214.5" r="8" fill="#666666"/><circle cx="1266.6" cy="215.6" r="8" fill="#5a5a5a"/><circle cx="1293.8" cy="214.5" r="8" fill="#4a4a4a"/><circle cx="1227.0" cy="219.8" r="8" fill="#555555"/><circle cx="1306.4" cy="163.3" r="8" fill="#606060"/><circle cx="1315.8" cy="157.0" r="8" fill="#404040"/><circle cx="1330.4" cy="149.7" r="8" fill="#505050"/><circle cx="1329.3" cy="169.6" r="8" fill="#666666"/><circle cx="1323.0" cy="183.0" r="8" fill="#5a5a5a"/><circle cx="1323.0" cy="200.0" r="8" fill="#4a4a4a"/><circle cx="1331.4" cy="210.4" r="8" fill="#555555"/><circle cx="1325.2" cy="218.7" r="8" fill="#606060"/><circle cx="1160.0" cy="221.0" r="8" fill="#404040"/></g><text x="1001.5" y="202.5" font-family="Liberation Sans, sans-serif" font-size="16.5" font-weight="bold" letter-spacing="0.9" fill="#fff" filter="url(#blur1)">100 nm</text><rect x="999.8" y="209.9" width="49.5" height="3.6" rx="1.5" fill="#fff" filter="url(#blur1)"/></g>
<path d="M823.4 163.9 L1030 334.8" stroke="#000" stroke-width="4.2" fill="none"/>
<path d="M1018.5 335 L1033.5 337.8 L1027.5 323.5" stroke="#000" stroke-width="4" fill="none" stroke-linecap="round" stroke-linejoin="round"/>
<text transform="translate(946 237) rotate(38.7)" x="-18" y="9" textLength="36" lengthAdjust="spacingAndGlyphs" font-family="Liberation Sans, sans-serif" font-size="28.5" fill="#151515" stroke="#151515" stroke-width="0.4"><tspan font-size="32">(</tspan>b<tspan font-size="32">)</tspan></text>
<text transform="translate(912 272) rotate(38.7)" x="-29.5" y="10" textLength="59" lengthAdjust="spacingAndGlyphs" font-family="Liberation Sans, sans-serif" font-size="28.5" fill="#151515" stroke="#151515" stroke-width="0.4">EISA</text>
<polygon points="1099,400 1110,372 1215,322 1320,362 1335,400 1335,550 1135,550 1099,505" fill="#b5bcc3"/>
<polygon points="1130,400 1215,360 1300,400 1300,550 1130,550" fill="#5a6a72"/>
<use href="#mT" transform="translate(1157.7 366.0) rotate(0) scale(1.125)"/>
<use href="#mT" transform="translate(1214.5 400.0) rotate(37) scale(1.125)"/>
<use href="#mT" transform="translate(1312.3 416.0) rotate(74) scale(1.125)"/>
<use href="#mT" transform="translate(1258.0 449.0) rotate(111) scale(1.125)"/>
<use href="#mT" transform="translate(1223.0 460.0) rotate(148) scale(1.125)"/>
<use href="#mT" transform="translate(1308.7 490.4) rotate(185) scale(1.125)"/>
<use href="#mT" transform="translate(1258.3 514.4) rotate(222) scale(1.125)"/>
<use href="#mT" transform="translate(1236.0 540.0) rotate(259) scale(1.125)"/>
<use href="#mT" transform="translate(1180.0 430.0) rotate(296) scale(1.125)"/>
<use href="#mT" transform="translate(1290.0 440.0) rotate(333) scale(1.125)"/>
<use href="#mT" transform="translate(1273.6 545.0) rotate(370) scale(1.125)"/>
<use href="#mT" transform="translate(1151.0 545.0) rotate(407) scale(1.125)"/>
<use href="#mG" transform="translate(1214.5 336.4) rotate(0) scale(1.080)"/>
<use href="#mG" transform="translate(1158.4 358.5) rotate(53) scale(1.080)"/>
<use href="#mG" transform="translate(1271.0 358.0) rotate(106) scale(1.080)"/>
<use href="#mG" transform="translate(1097.0 380.0) rotate(159) scale(1.080)"/>
<use href="#mG" transform="translate(1332.5 380.5) rotate(212) scale(1.080)"/>
<use href="#mG" transform="translate(1213.5 377.5) rotate(265) scale(1.080)"/>
<use href="#mG" transform="translate(1154.5 398.5) rotate(318) scale(1.080)"/>
<use href="#mG" transform="translate(1273.6 398.0) rotate(11) scale(1.080)"/>
<use href="#mG" transform="translate(1214.5 422.7) rotate(64) scale(1.080)"/>
<use href="#mG" transform="translate(1132.7 436.4) rotate(117) scale(1.080)"/>
<use href="#mG" transform="translate(1098.6 456.8) rotate(170) scale(1.080)"/>
<use href="#mG" transform="translate(1328.0 456.8) rotate(223) scale(1.080)"/>
<use href="#mG" transform="translate(1189.5 461.4) rotate(276) scale(1.080)"/>
<use href="#mG" transform="translate(1273.6 481.8) rotate(329) scale(1.080)"/>
<use href="#mG" transform="translate(1153.2 481.8) rotate(22) scale(1.080)"/>
<use href="#mG" transform="translate(1214.5 506.8) rotate(75) scale(1.080)"/>
<use href="#mG" transform="translate(1132.7 513.6) rotate(128) scale(1.080)"/>
<use href="#mG" transform="translate(1098.6 531.8) rotate(181) scale(1.080)"/>
<use href="#mG" transform="translate(1328.0 529.5) rotate(234) scale(1.080)"/>
<use href="#mG" transform="translate(1188.0 543.0) rotate(287) scale(1.080)"/>
<path d="M1067 465.2 L881 464.6" stroke="#000" stroke-width="3.8" fill="none"/>
<path d="M891.5 457 L879 464.6 L891.5 472.3" stroke="#000" stroke-width="3.9" fill="none" stroke-linecap="round" stroke-linejoin="round"/>
<text x="966.5" y="453" textLength="35.5" lengthAdjust="spacingAndGlyphs" font-family="Liberation Sans, sans-serif" font-size="28.5" fill="#151515" stroke="#151515" stroke-width="0.4"><tspan font-size="32">(</tspan>c<tspan font-size="32">)</tspan></text>
<text x="890.8" y="499" textLength="132.5" lengthAdjust="spacingAndGlyphs" font-family="Liberation Sans, sans-serif" font-size="30" fill="#151515" stroke="#151515" stroke-width="0.4">800~1000</text>
<text x="1030.9" y="488.2" textLength="12" lengthAdjust="spacingAndGlyphs" font-family="Liberation Sans, sans-serif" font-size="17" fill="#151515" stroke="#151515" stroke-width="0.4">o</text>
<text x="1042.7" y="499" textLength="18.8" lengthAdjust="spacingAndGlyphs" font-family="Liberation Sans, sans-serif" font-size="30" fill="#151515" stroke="#151515" stroke-width="0.4">C</text>
<text x="900.9" y="526.6" textLength="142.8" lengthAdjust="spacingAndGlyphs" font-family="Liberation Sans, sans-serif" font-size="28.5" fill="#151515" stroke="#151515" stroke-width="0.4">calcination</text>
<path d="M571 464.6 L368 462.4" stroke="#000" stroke-width="3.8" fill="none"/>
<path d="M379.5 454.5 L366 462.4 L379.5 470.5" stroke="#000" stroke-width="3.9" fill="none" stroke-linecap="round" stroke-linejoin="round"/>
<text x="437.7" y="449" textLength="39" lengthAdjust="spacingAndGlyphs" font-family="Liberation Sans, sans-serif" font-size="28.5" fill="#151515" stroke="#151515" stroke-width="0.4"><tspan font-size="32">(</tspan>d<tspan font-size="32">)</tspan></text>
<text x="407" y="491.5" textLength="108.2" lengthAdjust="spacingAndGlyphs" font-family="Liberation Sans, sans-serif" font-size="28.5" fill="#151515" stroke="#151515" stroke-width="0.4">Remove</text>
<text x="375" y="520.5" textLength="179.3" lengthAdjust="spacingAndGlyphs" font-family="Liberation Sans, sans-serif" font-size="28.5" fill="#151515" stroke="#151515" stroke-width="0.4">silica micelles</text>
<polygon points="596,387 720,335 844,389 844,550 596,550" fill="#0a5a9c"/>
<polygon points="596,388 720,432 720,550 596,550" fill="#051b3c"/>
<polygon points="720,432 844,388 844,550 720,550" fill="#0b5ea6"/>
<polygon points="596,388 720,333 844,388 720,432" fill="#177fd4"/>
<g filter="url(#blur2)" fill="#000" fill-opacity="0.75"><ellipse cx="620.5" cy="435.5" rx="18" ry="21.5" transform="rotate(-16 620.5 435.5)"/><ellipse cx="595.4" cy="459.5" rx="18" ry="21.5" transform="rotate(-16 595.4 459.5)"/><ellipse cx="679.3" cy="464.0" rx="18" ry="21.5" transform="rotate(-16 679.3 464.0)"/><ellipse cx="652.0" cy="486.6" rx="18" ry="21.5" transform="rotate(-16 652.0 486.6)"/><ellipse cx="622.6" cy="510.0" rx="18" ry="21.5" transform="rotate(-16 622.6 510.0)"/><ellipse cx="596.6" cy="530.4" rx="18" ry="21.5" transform="rotate(-16 596.6 530.4)"/><ellipse cx="679.3" cy="535.0" rx="18" ry="21.5" transform="rotate(-16 679.3 535.0)"/><ellipse cx="651.0" cy="549.0" rx="18" ry="21.5" transform="rotate(-16 651.0 549.0)"/><ellipse cx="756.5" cy="464.0" rx="18" ry="21.5" transform="rotate(16 756.5 464.0)"/><ellipse cx="814.5" cy="435.0" rx="18" ry="21.5" transform="rotate(16 814.5 435.0)"/><ellipse cx="839.2" cy="458.3" rx="18" ry="21.5" transform="rotate(16 839.2 458.3)"/><ellipse cx="783.7" cy="486.6" rx="18" ry="21.5" transform="rotate(16 783.7 486.6)"/><ellipse cx="813.2" cy="511.5" rx="18" ry="21.5" transform="rotate(16 813.2 511.5)"/><ellipse cx="836.9" cy="530.4" rx="18" ry="21.5" transform="rotate(16 836.9 530.4)"/><ellipse cx="756.5" cy="535.0" rx="18" ry="21.5" transform="rotate(16 756.5 535.0)"/><ellipse cx="784.8" cy="549.0" rx="18" ry="21.5" transform="rotate(16 784.8 549.0)"/></g>
<ellipse cx="623.5" cy="431.5" rx="18" ry="21.5" transform="rotate(-16 623.5 431.5)" fill="url(#gS)"/>
<ellipse cx="598.4" cy="455.5" rx="18" ry="21.5" transform="rotate(-16 598.4 455.5)" fill="url(#gS)"/>
<ellipse cx="682.3" cy="460.0" rx="18" ry="21.5" transform="rotate(-16 682.3 460.0)" fill="url(#gS)"/>
<ellipse cx="655.0" cy="482.6" rx="18" ry="21.5" transform="rotate(-16 655.0 482.6)" fill="url(#gS)"/>
<ellipse cx="625.6" cy="506.0" rx="18" ry="21.5" transform="rotate(-16 625.6 506.0)" fill="url(#gS)"/>
<ellipse cx="599.6" cy="526.4" rx="18" ry="21.5" transform="rotate(-16 599.6 526.4)" fill="url(#gS)"/>
<ellipse cx="682.3" cy="531.0" rx="18" ry="21.5" transform="rotate(-16 682.3 531.0)" fill="url(#gS)"/>
<ellipse cx="654.0" cy="545.0" rx="18" ry="21.5" transform="rotate(-16 654.0 545.0)" fill="url(#gS)"/>
<ellipse cx="758.5" cy="460.0" rx="18" ry="21.5" transform="rotate(16 758.5 460.0)" fill="url(#gS)"/>
<ellipse cx="816.5" cy="431.0" rx="18" ry="21.5" transform="rotate(16 816.5 431.0)" fill="url(#gS)"/>
<ellipse cx="841.2" cy="454.3" rx="18" ry="21.5" transform="rotate(16 841.2 454.3)" fill="url(#gS)"/>
<ellipse cx="785.7" cy="482.6" rx="18" ry="21.5" transform="rotate(16 785.7 482.6)" fill="url(#gS)"/>
<ellipse cx="815.2" cy="507.5" rx="18" ry="21.5" transform="rotate(16 815.2 507.5)" fill="url(#gS)"/>
<ellipse cx="838.9" cy="526.4" rx="18" ry="21.5" transform="rotate(16 838.9 526.4)" fill="url(#gS)"/>
<ellipse cx="758.5" cy="531.0" rx="18" ry="21.5" transform="rotate(16 758.5 531.0)" fill="url(#gS)"/>
<ellipse cx="786.8" cy="545.0" rx="18" ry="21.5" transform="rotate(16 786.8 545.0)" fill="url(#gS)"/>
<circle cx="721.0" cy="507.5" r="21" fill="url(#gS)"/>
<circle cx="717.5" cy="323.0" r="22" fill="#000" fill-opacity="0.55" filter="url(#blur2)"/>
<circle cx="719.0" cy="320.0" r="21.5" fill="url(#gS)"/>
<circle cx="660.7" cy="348.0" r="22" fill="#000" fill-opacity="0.55" filter="url(#blur2)"/>
<circle cx="662.2" cy="345.0" r="21.5" fill="url(#gS)"/>
<circle cx="719.5" cy="349.0" r="22" fill="#000" fill-opacity="0.55" filter="url(#blur2)"/>
<circle cx="721.0" cy="346.0" r="21.5" fill="url(#gS)"/>
<circle cx="776.5" cy="348.0" r="22" fill="#000" fill-opacity="0.55" filter="url(#blur2)"/>
<circle cx="778.0" cy="345.0" r="21.5" fill="url(#gS)"/>
<circle cx="600.5" cy="379.0" r="22" fill="#000" fill-opacity="0.55" filter="url(#blur2)"/>
<circle cx="602.0" cy="376.0" r="21.5" fill="url(#gS)"/>
<circle cx="658.3" cy="371.6" r="22" fill="#000" fill-opacity="0.55" filter="url(#blur2)"/>
<circle cx="659.8" cy="368.6" r="21.5" fill="url(#gS)"/>
<circle cx="719.5" cy="371.6" r="22" fill="#000" fill-opacity="0.55" filter="url(#blur2)"/>
<circle cx="721.0" cy="368.6" r="21.5" fill="url(#gS)"/>
<circle cx="777.5" cy="374.0" r="22" fill="#000" fill-opacity="0.55" filter="url(#blur2)"/>
<circle cx="779.0" cy="371.0" r="21.5" fill="url(#gS)"/>
<circle cx="836.8" cy="378.6" r="22" fill="#000" fill-opacity="0.55" filter="url(#blur2)"/>
<circle cx="838.3" cy="375.6" r="21.5" fill="url(#gS)"/>
<circle cx="657.2" cy="400.0" r="22" fill="#000" fill-opacity="0.55" filter="url(#blur2)"/>
<circle cx="658.7" cy="397.0" r="21.5" fill="url(#gS)"/>
<circle cx="719.5" cy="398.7" r="22" fill="#000" fill-opacity="0.55" filter="url(#blur2)"/>
<circle cx="721.0" cy="395.7" r="21.5" fill="url(#gS)"/>
<circle cx="780.1" cy="402.3" r="22" fill="#000" fill-opacity="0.55" filter="url(#blur2)"/>
<circle cx="781.6" cy="399.3" r="21.5" fill="url(#gS)"/>
<circle cx="719" cy="435" r="23.5" fill="#000" fill-opacity="0.6" filter="url(#blur2)"/>
<circle cx="720.7" cy="431.5" r="23.2" fill="url(#gS)"/>
<clipPath id="pc"><path d="M88,356 Q99,345 103,327 L132,316 Q140,325 149,322 L165.7,304 L188.7,293.4 Q207.5,302 226.3,293.4 L251.4,302.8 Q258,312 253.5,318.4 L282.8,316.4 L307.8,325.8 Q312,345 328.7,354 L327,404 Q316,420 326.5,436 L326.5,482 L308.7,496.3 L280.7,511.2 Q266,508 254.4,524.3 L225.5,541.8 Q207,531 190.5,541.8 L162.4,522.6 Q147,500 136.2,512 L107.3,496.3 L89,482 L89,430 Q101,414 89,398 Z"/></clipPath>
<g clip-path="url(#pc)"><rect x="80" y="280" width="260" height="275" fill="#1a7ed0"/><polygon points="80,341 207,389 207,560 80,560" fill="#04183a"/><polygon points="207,389 340,341 340,560 207,560" fill="#0d5ca0"/><ellipse cx="151.0" cy="367.0" rx="20" ry="19" fill="url(#gHoleL)"/><ellipse cx="266.0" cy="367.0" rx="20" ry="19" fill="url(#gHoleL)"/><ellipse cx="208.6" cy="392.0" rx="20" ry="19" fill="url(#gHoleL)"/><ellipse cx="120.0" cy="389.0" rx="14" ry="20" transform="rotate(-20 120.0 389.0)" fill="url(#gHoleL)"/><ellipse cx="172.7" cy="414.0" rx="14" ry="20" transform="rotate(-20 172.7 414.0)" fill="url(#gHoleL)"/><ellipse cx="144.9" cy="438.7" rx="14" ry="20" transform="rotate(-20 144.9 438.7)" fill="url(#gHoleL)"/><ellipse cx="117.0" cy="460.3" rx="14" ry="20" transform="rotate(-20 117.0 460.3)" fill="url(#gHoleL)"/><ellipse cx="175.6" cy="489.3" rx="14" ry="20" transform="rotate(-20 175.6 489.3)" fill="url(#gHoleL)"/><ellipse cx="145.8" cy="503.0" rx="14" ry="20" transform="rotate(-20 145.8 503.0)" fill="url(#gHoleL)"/><ellipse cx="96.0" cy="416.0" rx="14" ry="20" transform="rotate(-20 96.0 416.0)" fill="url(#gHoleL)"/><ellipse cx="242.0" cy="412.5" rx="14" ry="20" transform="rotate(20 242.0 412.5)" fill="url(#gHoleR)"/><ellipse cx="272.5" cy="437.0" rx="14" ry="20" transform="rotate(20 272.5 437.0)" fill="url(#gHoleR)"/><ellipse cx="301.0" cy="462.0" rx="14" ry="20" transform="rotate(20 301.0 462.0)" fill="url(#gHoleR)"/><ellipse cx="242.0" cy="487.0" rx="14" ry="20" transform="rotate(20 242.0 487.0)" fill="url(#gHoleR)"/><ellipse cx="274.4" cy="500.5" rx="14" ry="20" transform="rotate(20 274.4 500.5)" fill="url(#gHoleR)"/><ellipse cx="301.0" cy="389.6" rx="14" ry="20" transform="rotate(20 301.0 389.6)" fill="url(#gHoleR)"/><ellipse cx="322.0" cy="424.0" rx="14" ry="20" transform="rotate(20 322.0 424.0)" fill="url(#gHoleR)"/><ellipse cx="204.0" cy="471.0" rx="16" ry="20" fill="url(#gHoleL)"/><ellipse cx="207.0" cy="530.0" rx="16" ry="20" fill="url(#gHoleL)"/><ellipse cx="210.0" cy="395.0" rx="16" ry="20" fill="url(#gHoleL)"/><ellipse cx="208.6" cy="310.0" rx="23" ry="10" fill="url(#gHoleTop)"/><ellipse cx="151.0" cy="334.0" rx="23" ry="10" fill="url(#gHoleTop)"/><ellipse cx="208.6" cy="334.0" rx="23" ry="10" fill="url(#gHoleTop)"/><ellipse cx="266.0" cy="334.0" rx="23" ry="10" fill="url(#gHoleTop)"/><ellipse cx="151.0" cy="358.0" rx="23" ry="10" fill="url(#gHoleTop)"/><ellipse cx="208.6" cy="359.0" rx="23" ry="10" fill="url(#gHoleTop)"/><ellipse cx="266.0" cy="358.0" rx="23" ry="10" fill="url(#gHoleTop)"/><ellipse cx="208.6" cy="383.0" rx="23" ry="10" fill="url(#gHoleTop)"/><ellipse cx="103.0" cy="334.0" rx="18" ry="9" fill="url(#gNotch)"/><ellipse cx="164.0" cy="310.0" rx="18" ry="9" fill="url(#gNotch)"/><ellipse cx="252.0" cy="310.0" rx="18" ry="9" fill="url(#gNotch)"/><ellipse cx="312.0" cy="334.0" rx="18" ry="9" fill="url(#gNotch)"/></g>
<text x="96" y="568.6" textLength="222" lengthAdjust="spacingAndGlyphs" font-family="Liberation Sans, sans-serif" font-size="29.6" fill="#151515" stroke="#151515" stroke-width="0.4">Highly crystalline</text>
</g>
</svg></body></html>
